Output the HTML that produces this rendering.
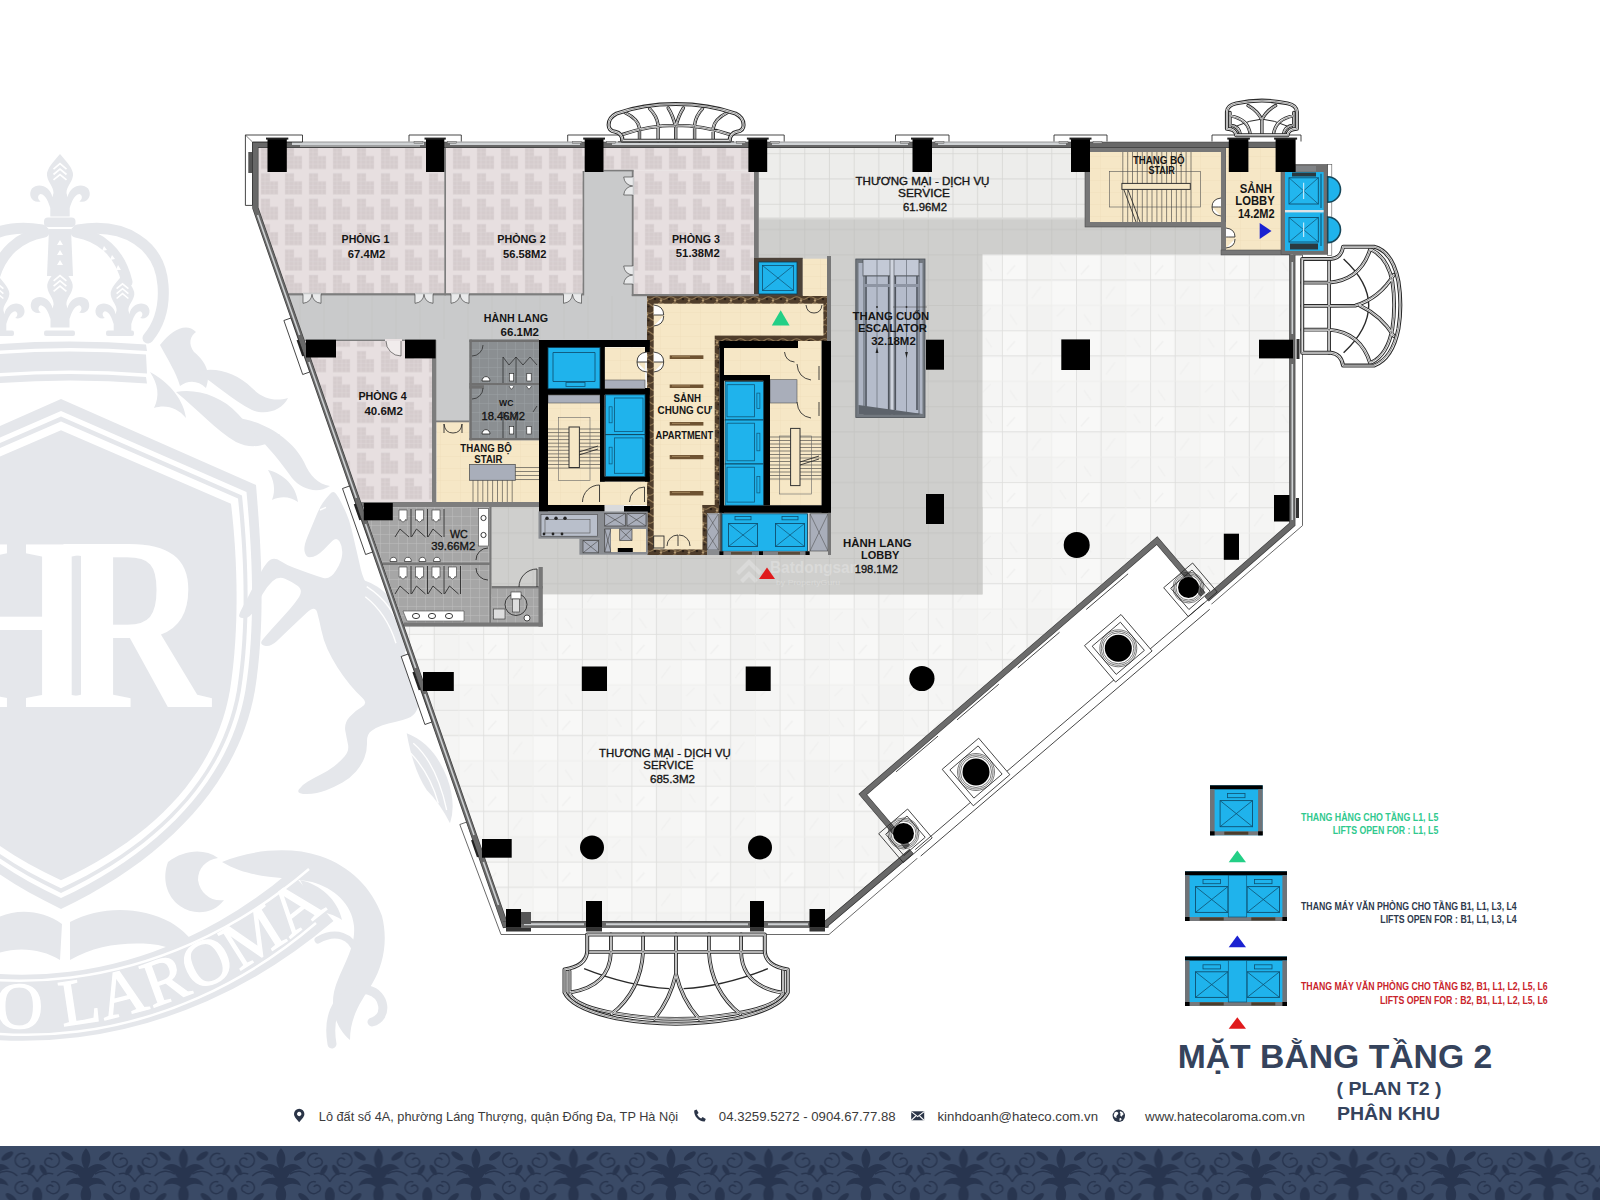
<!DOCTYPE html>
<html lang="vi"><head><meta charset="utf-8">
<title>Mặt bằng tầng 2 - Hateco Laroma</title>
<style>html,body{margin:0;padding:0;background:#fff;width:1600px;height:1200px;overflow:hidden}svg{display:block;position:absolute;left:0;top:0}</style>
</head><body>
<svg width="1600" height="1200" viewBox="0 0 1600 1200" font-family="'Liberation Sans', Arial, sans-serif">
<defs>
<pattern id="carpet" width="24" height="25.4" patternUnits="userSpaceOnUse" x="258" y="146"><rect width="24" height="25.4" fill="#e7dfe0"/><path d="M3 2h9v8h8v13h-17z" fill="#d5cccd"/><path d="M3 2h9v8h8v13h-17z M7 2v21 M3 6h9 M3 10h9 M3 14h17 M3 18h17 M12 10v13 M16 10v13" fill="none" stroke="#ddd6d8" stroke-width="0.5"/></pattern>
<pattern id="tile" width="74.1" height="75.9" patternUnits="userSpaceOnUse" x="1001.9" y="254.4"><rect width="74.1" height="75.9" fill="#f5f5f4"/><rect x="0" y="0" width="24.7" height="25.3" fill="#f8f8f7"/><rect x="49.4" y="25.3" width="24.7" height="25.3" fill="#f8f8f7"/><rect x="24.7" y="50.6" width="24.7" height="25.3" fill="#f2f2f1"/><rect x="24.7" y="0" width="24.7" height="25.3" fill="#f3f3f2"/><path d="M0 0.4H74.1 M0 25.7H74.1 M0.4 0V75.9 M25.1 0V75.9" stroke="#dddddc" stroke-width="0.9" fill="none"/><path d="M0 51H74.1 M49.8 0V75.9" stroke="#ececeb" stroke-width="0.8" fill="none"/><path d="M5 20l8-9 M30 44l9-12 M58 8l6 9 M8 60l7 10 M55 62l8-8" stroke="#f0f0ef" stroke-width="1.2" fill="none"/></pattern>
<pattern id="tile2" width="49.4" height="50.6" patternUnits="userSpaceOnUse" x="1001.9" y="254.4"><rect width="49.4" height="50.6" fill="#ededeb"/><path d="M0 0.4H49.4 M0 25.7H49.4 M0.4 0V50.6 M25.1 0V50.6" stroke="#d6d6d4" stroke-width="0.9" fill="none"/></pattern>
<pattern id="gtile" width="49.4" height="50.6" patternUnits="userSpaceOnUse" x="1001.9" y="254.4"><rect width="49.4" height="50.6" fill="#cfcfcd"/><path d="M0 0.4H49.4 M0 25.7H49.4 M0.4 0V50.6 M25.1 0V50.6" stroke="#c4c4c2" stroke-width="0.9" fill="none"/></pattern>
<pattern id="wct" width="9" height="9" patternUnits="userSpaceOnUse" x="362" y="507"><rect width="9" height="9" fill="#a6a6a6"/><path d="M0 0.3H9 M0.3 0V9" stroke="#bdbdbd" stroke-width="0.6"/></pattern>
<pattern id="wct2" width="9" height="9" patternUnits="userSpaceOnUse" x="470" y="340"><rect width="9" height="9" fill="#8b8f92"/><path d="M0 0.3H9 M0.3 0V9" stroke="#9da1a4" stroke-width="0.6"/></pattern>
<pattern id="beige" width="20" height="12" patternUnits="userSpaceOnUse"><rect width="20" height="12" fill="#f6e7c6"/><path d="M0 0.3H20 M0.3 0V12" stroke="#ecdcb9" stroke-width="0.5"/></pattern>
<pattern id="brown" width="14" height="14" patternUnits="userSpaceOnUse"><rect width="14" height="14" fill="#4f3d2b"/><path d="M0 3c3 1 4 3 7 2s4-3 7-2 M0 10c2-2 5-1 7 1s5 2 7 0" stroke="#8f7653" stroke-width="1.1" fill="none"/><circle cx="3" cy="6.5" r="1.2" fill="#b59a72"/><circle cx="10.5" cy="12" r="1" fill="#a98d64"/><circle cx="11" cy="5" r="1.3" fill="#2b2017"/><circle cx="4.5" cy="12.5" r="1.1" fill="#2b2017"/></pattern>
<pattern id="damask" width="97.5" height="70" patternUnits="userSpaceOnUse" x="37.3" y="1146"><rect width="97.5" height="70" fill="#3a4a66"/><g fill="#28354f" stroke="none"><path d="M48.7 2c5 6 6 12 2 20c8-6 14-5 19 1c-7 0-12 3-15 9c7-1 12 2 14 8c-6-3-12-3-17 1c3 5 3 10 0 16l-3 8l-3-8c-3-6-3-11 0-16c-5-4-11-4-17-1c2-6 7-9 14-8c-3-6-8-9-15-9c5-6 11-7 19-1c-4-8-3-14 2-20z"/><ellipse cx="30" cy="10" rx="7" ry="3" transform="rotate(35 30 10)"/><ellipse cx="67.5" cy="10" rx="7" ry="3" transform="rotate(-35 67.5 10)"/><ellipse cx="26" cy="52" rx="7" ry="3" transform="rotate(-40 26 52)"/><ellipse cx="71.5" cy="52" rx="7" ry="3" transform="rotate(40 71.5 52)"/><ellipse cx="38" cy="62" rx="6" ry="2.6" transform="rotate(-65 38 62)"/><ellipse cx="59.5" cy="62" rx="6" ry="2.6" transform="rotate(65 59.5 62)"/><ellipse cx="6" cy="24" rx="6" ry="2.6" transform="rotate(60 6 24)"/><ellipse cx="91.5" cy="24" rx="6" ry="2.6" transform="rotate(-60 91.5 24)"/><ellipse cx="0" cy="50" rx="5" ry="9"/><ellipse cx="97.5" cy="50" rx="5" ry="9"/></g><g fill="none" stroke="#28354f" stroke-width="1.6"><path d="M12 8a7 7 0 1 1 -1 12a4 4 0 1 1 4 -6"/><path d="M85.5 8a7 7 0 1 0 1 12a4 4 0 1 0 -4 -6"/><path d="M14 36a6 6 0 1 1 -2 10a3.5 3.5 0 1 1 4 -5"/><path d="M83.5 36a6 6 0 1 0 2 10a3.5 3.5 0 1 0 -4 -5"/><path d="M20 30c6 -6 14 -6 20 -2 M77.5 30c-6 -6 -14 -6 -20 -2"/><path d="M0 36c4 -8 10 -10 16 -8 M97.5 36c-4 -8 -10 -10 -16 -8"/></g></pattern>
</defs>
<rect width="1600" height="1200" fill="#fff"/>
<g id="watermark" fill="#e5e7eb" stroke="none">
<path d="M60.0 154.0 C65.4 160.5 74.0 169.1 73.0 175.6 C71.9 183.2 66.5 186.4 66.5 192.9 L67.6 197.2 C69.7 186.4 81.6 182.1 88.1 188.6 C92.4 195.0 88.1 203.7 79.4 201.5 C82.7 199.4 82.7 195.0 79.4 194.0 C74.0 195.0 71.9 201.5 69.7 208.0 L69.7 216.6 L50.3 216.6 L50.3 208.0 C48.1 201.5 46.0 195.0 40.6 194.0 C37.3 195.0 37.3 199.4 40.6 201.5 C31.9 203.7 27.6 195.0 31.9 188.6 C38.4 182.1 50.3 186.4 52.4 197.2 L53.5 192.9 C53.5 186.4 48.1 183.2 47.0 175.6 C46.0 169.1 54.6 160.5 60.0 154.0 Z"/>
<path d="M53.5 169.1 L60.0 163.7 L66.5 169.1" fill="none" stroke="#fff" stroke-width="1.7"/>
<path d="M53.5 174.5 L60.0 169.1 L66.5 174.5" fill="none" stroke="#fff" stroke-width="1.7"/>
<path d="M53.5 179.9 L60.0 174.5 L66.5 179.9" fill="none" stroke="#fff" stroke-width="1.7"/>
<rect x="44" y="217.5" width="31.5" height="9.5" rx="4"/>
<path d="M49 229 L71 229 L73 276 L47 276 Z"/>
<path d="M57 245 L60 240 L63 245 Z" fill="#fff"/>
<path d="M57 255 L60 250 L63 255 Z" fill="#fff"/>
<path d="M57 265 L60 260 L63 265 Z" fill="#fff"/>
<g fill="none" stroke="#e5e7eb" stroke-linecap="round">
<path d="M76 232 C100 236 120 252 127 282" stroke-width="11"/>
<path d="M78 230 C125 222 160 245 163 285 C165 310 158 326 148 338" stroke-width="11"/>
<path d="M44 232 C20 236 0 252 -7 282" stroke-width="11"/>
<path d="M42 230 C-5 222 -40 245 -43 285 C-45 310 -38 326 -28 338" stroke-width="11"/>
</g>
<path d="M104 246 l3 4 l-5 1z M112 255 l3 4 l-5 1z M118 265 l3 5 l-5 0z" fill="#fff"/>
<path d="M60.0 266.0 C65.3 272.4 73.8 280.8 72.7 287.2 C71.7 294.6 66.4 297.8 66.4 304.2 L67.4 308.4 C69.5 297.8 81.2 293.6 87.6 299.9 C91.8 306.3 87.6 314.8 79.1 312.6 C82.3 310.5 82.3 306.3 79.1 305.2 C73.8 306.3 71.7 312.6 69.5 319.0 L69.5 327.5 L50.5 327.5 L50.5 319.0 C48.3 312.6 46.2 306.3 40.9 305.2 C37.7 306.3 37.7 310.5 40.9 312.6 C32.4 314.8 28.2 306.3 32.4 299.9 C38.8 293.6 50.5 297.8 52.6 308.4 L53.6 304.2 C53.6 297.8 48.3 294.6 47.3 287.2 C46.2 280.8 54.7 272.4 60.0 266.0 Z"/>
<path d="M53.6 280.8 L60.0 275.5 L66.4 280.8" fill="none" stroke="#fff" stroke-width="1.7"/>
<path d="M53.6 286.1 L60.0 280.8 L66.4 286.1" fill="none" stroke="#fff" stroke-width="1.7"/>
<path d="M53.6 291.4 L60.0 286.1 L66.4 291.4" fill="none" stroke="#fff" stroke-width="1.7"/>
<path d="M122.5 275.0 C127.4 280.9 135.2 288.7 134.3 294.6 C133.3 301.5 128.4 304.4 128.4 310.3 L129.4 314.2 C131.3 304.4 142.1 300.5 148.0 306.4 C151.9 312.2 148.0 320.1 140.1 318.1 C143.1 316.2 143.1 312.2 140.1 311.3 C135.2 312.2 133.3 318.1 131.3 324.0 L131.3 331.8 L113.7 331.8 L113.7 324.0 C111.7 318.1 109.8 312.2 104.9 311.3 C101.9 312.2 101.9 316.2 104.9 318.1 C97.0 320.1 93.1 312.2 97.0 306.4 C102.9 300.5 113.7 304.4 115.6 314.2 L116.6 310.3 C116.6 304.4 111.7 301.5 110.7 294.6 C109.8 288.7 117.6 280.9 122.5 275.0 Z"/>
<path d="M116.6 288.7 L122.5 283.8 L128.4 288.7" fill="none" stroke="#fff" stroke-width="1.6"/>
<path d="M116.6 293.6 L122.5 288.7 L128.4 293.6" fill="none" stroke="#fff" stroke-width="1.6"/>
<path d="M116.6 298.5 L122.5 293.6 L128.4 298.5" fill="none" stroke="#fff" stroke-width="1.6"/>
<path d="M-2.5 275.0 C2.4 280.9 10.2 288.7 9.3 294.6 C8.3 301.5 3.4 304.4 3.4 310.3 L4.4 314.2 C6.3 304.4 17.1 300.5 23.0 306.4 C26.9 312.2 23.0 320.1 15.1 318.1 C18.1 316.2 18.1 312.2 15.1 311.3 C10.2 312.2 8.3 318.1 6.3 324.0 L6.3 331.8 L-11.3 331.8 L-11.3 324.0 C-13.3 318.1 -15.2 312.2 -20.1 311.3 C-23.1 312.2 -23.1 316.2 -20.1 318.1 C-28.0 320.1 -31.9 312.2 -28.0 306.4 C-22.1 300.5 -11.3 304.4 -9.4 314.2 L-8.4 310.3 C-8.4 304.4 -13.3 301.5 -14.3 294.6 C-15.2 288.7 -7.4 280.9 -2.5 275.0 Z"/>
<path d="M-8.4 288.7 L-2.5 283.8 L3.4 288.7" fill="none" stroke="#fff" stroke-width="1.6"/>
<path d="M-8.4 293.6 L-2.5 288.7 L3.4 293.6" fill="none" stroke="#fff" stroke-width="1.6"/>
<path d="M-8.4 298.5 L-2.5 293.6 L3.4 298.5" fill="none" stroke="#fff" stroke-width="1.6"/>
<rect x="44" y="330.5" width="31" height="5.5" rx="2"/>
<rect x="106" y="330.5" width="28" height="5.5" rx="2"/>
<rect x="-16" y="330.5" width="30" height="5.5" rx="2"/>
<path d="M-30 346.5 Q60 337.5 146 344.5 L147 351.0 Q60 344.0 -30 353.0 Z"/>
<path d="M-30 356.5 Q60 347.5 146 354.5 L147 373.5 Q60 366.5 -30 375.5 Z"/>
<path d="M-30 379 Q60 370 146 377 L147 383.5 Q60 376.5 -30 385.5 Z"/>
<path d="M61 399.0 L256.0 485.0 C261.0 545 266.0 620 255.0 690 C240.0 778.0 172.0 856.0 61 909.0 C-50.0 856.0 -118.0 778.0 -133.0 690 C-144.0 620 -139.0 545 -134.0 485.0 Z" fill="#e5e7eb"/>
<path d="M61 410.9 L246.5 492.1 C251.5 545 256.5 620 245.5 690 C231.0 775.1 166.3 848.4 61 898.1 C-44.3 848.4 -109.0 775.1 -123.5 690 C-134.5 620 -129.5 545 -124.5 492.1 Z" fill="#fff"/>
<path d="M61 416.5 L242.0 495.5 C247.0 545 252.0 620 241.0 690 C226.7 773.8 163.6 844.8 61 892.9 C-41.6 844.8 -104.7 773.8 -119.0 690 C-130.0 620 -125.0 545 -120.0 495.5 Z" fill="#e5e7eb"/>
<path d="M61 421.5 L238.0 498.5 C243.0 545 248.0 620 237.0 690 C222.9 772.6 161.2 841.6 61 888.3 C-39.2 841.6 -100.9 772.6 -115.0 690 C-126.0 620 -121.0 545 -116.0 498.5 Z" fill="#fff"/>
<path d="M61 430.2 L231.0 503.8 C236.0 545 241.0 620 230.0 690 C216.2 770.5 157.0 836.0 61 880.2 C-35.0 836.0 -94.2 770.5 -108.0 690 C-119.0 620 -114.0 545 -109.0 503.8 Z" fill="#e5e7eb"/>
<text y="707" style="font-family:'Liberation Serif',serif" font-weight="bold" font-size="248" fill="#fff"><tspan x="-58" textLength="149" lengthAdjust="spacingAndGlyphs">H</tspan><tspan x="60" textLength="150" lengthAdjust="spacingAndGlyphs">R</tspan></text>
<path d="M160 345 C172 330 186 322 196 332 C190 336 188 344 194 352 C204 360 212 372 206 388 C198 380 188 380 180 386 C176 372 168 360 160 345 Z"/>
<path d="M176 392 C196 388 222 396 238 414 C250 428 262 436 280 434 C270 446 252 450 236 442 C216 430 198 410 176 392 Z"/>
<path d="M196 372 C214 366 236 372 252 388 C262 398 274 402 288 398 C282 410 266 416 252 410 C232 400 216 384 196 372 Z"/>
<path d="M236 418 C262 420 292 438 304 462 C310 476 318 484 330 486 C318 494 302 490 292 478 C278 458 260 436 236 418 Z"/>
<path d="M150 372 C158 384 160 396 154 408 C166 404 178 408 186 418 C184 402 172 384 150 372 Z"/>
<path d="M268 470 C284 474 296 486 298 502 C290 496 280 496 272 500 C276 490 274 480 268 470 Z"/>
<path d="M336.0 493.7 Q333.3 490.0 329.7 494.2 Q326.0 498.3 323.0 502.5 Q320.0 506.7 315.8 516.7 Q311.7 526.7 307.5 536.7 Q303.3 546.7 304.7 552.0 Q306.0 557.3 309.7 557.3 Q313.3 557.3 316.7 555.3 Q320.0 553.3 324.2 549.2 Q328.3 545.0 332.5 540.8 Q336.7 536.7 339.7 541.7 Q342.7 546.7 342.2 554.2 Q341.7 561.7 335.8 570.8 Q330.0 580.0 323.3 578.0 Q316.7 576.0 308.3 573.0 Q300.0 570.0 293.3 567.5 Q286.7 565.0 280.8 561.2 Q275.0 557.3 270.8 559.5 Q266.7 561.7 261.7 570.8 Q256.7 580.0 252.5 588.3 Q248.3 596.7 244.2 604.2 Q240.0 611.7 239.2 615.0 Q238.3 618.3 244.2 618.3 Q250.0 618.3 254.2 610.0 Q258.3 601.7 262.5 594.2 Q266.7 586.7 272.5 581.3 Q278.3 576.0 285.0 578.8 Q291.7 581.7 297.5 585.8 Q303.3 590.0 299.2 596.7 Q295.0 603.3 287.5 611.7 Q280.0 620.0 272.5 628.3 Q265.0 636.7 262.2 640.3 Q259.3 644.0 264.7 645.7 Q270.0 647.3 276.7 641.2 Q283.3 635.0 290.8 627.8 Q298.3 620.7 306.7 612.8 Q315.0 605.0 317.2 612.5 Q319.3 620.0 321.3 630.0 Q323.3 640.0 327.5 649.2 Q331.7 658.3 337.5 667.5 Q343.3 676.7 350.0 684.7 Q356.7 692.7 362.5 698.0 Q368.3 703.3 361.7 707.0 Q355.0 710.7 349.5 717.0 Q344.0 723.3 345.3 730.8 Q346.7 738.3 348.0 744.5 Q349.3 750.7 344.7 756.2 Q340.0 761.7 334.2 766.2 Q328.3 770.7 320.8 774.5 Q313.3 778.3 307.5 781.7 Q301.7 785.0 298.8 789.5 Q296.0 794.0 306.7 794.0 Q317.3 794.0 326.2 790.3 Q335.0 786.7 342.5 782.5 Q350.0 778.3 355.8 771.7 Q361.7 765.0 364.5 757.5 Q367.3 750.0 367.0 742.0 Q366.7 734.0 371.7 730.7 Q376.7 727.3 382.5 725.3 Q388.3 723.3 395.0 722.0 Q401.7 720.7 407.8 718.3 Q414.0 716.0 417.0 709.7 Q420.0 703.3 419.7 695.8 Q419.3 688.3 416.3 680.0 Q413.3 671.7 410.0 664.2 Q406.7 656.7 401.7 645.8 Q396.7 635.0 391.7 625.8 Q386.7 616.7 380.8 606.7 Q375.0 596.7 369.2 588.3 Q363.3 580.0 360.8 569.2 Q358.3 558.3 355.8 547.5 Q353.3 536.7 351.3 528.3 Q349.3 520.0 346.3 513.3 Q343.3 506.7 341.0 502.0 Q338.7 497.3 336.0 493.7 Z"/>
<path d="M363.3 580.0 Q393.3 590.0 406.7 626.7 Q411.7 650.0 400.0 656.7 Q386.7 626.7 366.7 610.0 Z"/>
<path d="M366.7 586.7 Q393.3 603.3 402.7 636.7 M365.3 596.7 Q386.7 613.3 396.0 643.3 M320.0 510.0 L326.0 507.3" fill="none" stroke="#fff" stroke-width="1.4"/>
<path d="M406.7 733.3 Q433.3 743.3 446.7 776.7 Q456.7 803.3 450.0 823.3 Q440.0 803.3 426.7 790.0 Q413.3 770.0 406.7 733.3 Z"/>
<path d="M413.3 743.3 Q436.7 763.3 446.7 810.0 M410.7 753.3 Q430.0 773.3 438.3 803.3" fill="none" stroke="#fff" stroke-width="1.3"/>
<path d="M222 862 C250 850 290 846 320 856 C350 866 372 888 382 916 C388 940 384 964 372 984 C362 1000 350 1016 350 1040 C338 1030 330 1012 334 992 C340 968 356 950 354 926 C352 904 334 888 312 882 C284 876 252 880 222 862 Z"/>
<path d="M168 862 C184 850 204 848 218 858 C206 860 198 868 198 880 C200 894 212 902 224 900 C214 914 194 916 180 906 C166 896 162 878 168 862 Z"/>
<path d="M70 922 C100 906 140 906 170 922 C190 934 204 952 206 972 C192 956 172 946 150 944 C122 942 94 946 70 960 Z"/>
<path d="M-10 922 C10 908 40 908 62 924 L60 960 C40 948 14 946 -10 956 Z"/>
<path d="M300 880 C320 884 338 900 342 920 C330 912 316 910 304 914 C308 902 306 890 300 880 Z"/>
<path d="M332 1044 C326 1010 344 986 368 990 C386 994 388 1018 372 1022" fill="none" stroke="#e5e7eb" stroke-width="9" stroke-linecap="round"/>
<path d="M318 940 C336 930 352 936 356 952" fill="none" stroke="#e5e7eb" stroke-width="7" stroke-linecap="round"/>
<path id="rib" d="M-140 972 C-20 1030 160 1026 312 896" fill="none" stroke="#e5e7eb" stroke-width="66"/>
<path d="M-140 972 C-20 1030 160 1026 312 896" fill="none" stroke="#fff" stroke-width="2.5" transform="translate(-3,-27)"/>
<path d="M-140 972 C-20 1030 160 1026 312 896" fill="none" stroke="#fff" stroke-width="2.5" transform="translate(4,27)"/>
<path id="ribt" d="M-150 992 C-26 1052 172 1046 330 906" fill="none" stroke="none"/>
<text style="font-family:'Liberation Serif',serif" font-size="66" fill="#fff" stroke="#fff" stroke-width="1.2" letter-spacing="1.5"><textPath href="#ribt" startOffset="99.5%" text-anchor="end">HATECO LAROMA</textPath></text>
</g>
<g id="plan">
<polygon points="1289.0,255.0 1302.5,255.0 1302.5,525.6 829.0,934.5 501.0,934.5 459.8,824.5 466.8,822.0 504.0,924.0 826.0,924.0 1289.0,524.0" fill="#fff" stroke="#444" stroke-width="0.8" />
<polygon points="255.0,144.0 1293.0,144.0 1293.0,524.0 1205.7,597.6 1157.0,540.6 862.8,794.4 911.5,851.4 826.0,924.0 504.0,924.0 255.7,208.0" fill="url(#tile)" />
<polygon points="1157.0,540.6 1205.7,597.6 1213.5,606.8 919.3,860.6 911.5,851.4 862.8,794.4" fill="#fff" />
<rect x="758.8" y="146.0" width="462.2" height="73.0" fill="url(#tile2)" />
<rect x="758.8" y="219.0" width="462.2" height="35.4" fill="url(#gtile)" />
<rect x="758.8" y="219.0" width="223.7" height="375.4" fill="url(#gtile)" />
<rect x="491.6" y="507.0" width="490.9" height="87.4" fill="url(#gtile)" />
<rect x="758.8" y="217.5" width="326.2" height="2.0" fill="#d9d9d7" />
<polygon points="288.3,293.4 647.0,293.4 647.0,340.0 304.6,340.0" fill="#c9cacb" />
<rect x="583.4" y="170.6" width="50.1" height="125.4" fill="#c9cacb" />
<rect x="436.0" y="340.0" width="33.4" height="82.0" fill="#c9cacb" />
<line x1="300.0" y1="296.0" x2="300.0" y2="339.0" stroke="#c2c3c4" stroke-width="0.6" />
<line x1="324.0" y1="296.0" x2="324.0" y2="339.0" stroke="#c2c3c4" stroke-width="0.6" />
<line x1="348.0" y1="296.0" x2="348.0" y2="339.0" stroke="#c2c3c4" stroke-width="0.6" />
<line x1="372.0" y1="296.0" x2="372.0" y2="339.0" stroke="#c2c3c4" stroke-width="0.6" />
<line x1="396.0" y1="296.0" x2="396.0" y2="339.0" stroke="#c2c3c4" stroke-width="0.6" />
<line x1="420.0" y1="296.0" x2="420.0" y2="339.0" stroke="#c2c3c4" stroke-width="0.6" />
<line x1="444.0" y1="296.0" x2="444.0" y2="339.0" stroke="#c2c3c4" stroke-width="0.6" />
<line x1="468.0" y1="296.0" x2="468.0" y2="339.0" stroke="#c2c3c4" stroke-width="0.6" />
<line x1="492.0" y1="296.0" x2="492.0" y2="339.0" stroke="#c2c3c4" stroke-width="0.6" />
<line x1="516.0" y1="296.0" x2="516.0" y2="339.0" stroke="#c2c3c4" stroke-width="0.6" />
<line x1="540.0" y1="296.0" x2="540.0" y2="339.0" stroke="#c2c3c4" stroke-width="0.6" />
<line x1="564.0" y1="296.0" x2="564.0" y2="339.0" stroke="#c2c3c4" stroke-width="0.6" />
<line x1="588.0" y1="296.0" x2="588.0" y2="339.0" stroke="#c2c3c4" stroke-width="0.6" />
<line x1="612.0" y1="296.0" x2="612.0" y2="339.0" stroke="#c2c3c4" stroke-width="0.6" />
<line x1="636.0" y1="296.0" x2="636.0" y2="339.0" stroke="#c2c3c4" stroke-width="0.6" />
<polygon points="258.0,146.0 444.5,146.0 444.5,293.4 288.3,293.4 258.5,208.0" fill="url(#carpet)" />
<rect x="445.6" y="146.0" width="137.8" height="147.4" fill="url(#carpet)" />
<rect x="583.4" y="146.0" width="170.6" height="24.6" fill="url(#carpet)" />
<rect x="633.5" y="170.6" width="120.5" height="124.7" fill="url(#carpet)" />
<polygon points="304.6,340.0 432.0,340.0 432.0,502.0 361.1,502.0" fill="url(#carpet)" />
<polygon points="362.9,507.0 490.3,507.0 490.3,624.0 403.7,624.0" fill="url(#wct)" />
<rect x="492.0" y="587.0" width="48.0" height="37.0" fill="url(#wct)" />
<rect x="469.4" y="339.6" width="69.6" height="100.7" fill="url(#wct2)" />
<rect x="1085.0" y="144.4" width="141.0" height="82.6" fill="#777" stroke="#4a4a4a" stroke-width="0.6" />
<rect x="1090.0" y="152.0" width="131.0" height="70.0" fill="url(#beige)" />
<line x1="1122.8" y1="152.0" x2="1122.8" y2="222.0" stroke="#3a3a3a" stroke-width="0.6" />
<line x1="1127.7" y1="152.0" x2="1127.7" y2="222.0" stroke="#3a3a3a" stroke-width="0.6" />
<line x1="1132.5" y1="152.0" x2="1132.5" y2="222.0" stroke="#3a3a3a" stroke-width="0.6" />
<line x1="1137.4" y1="152.0" x2="1137.4" y2="222.0" stroke="#3a3a3a" stroke-width="0.6" />
<line x1="1142.3" y1="152.0" x2="1142.3" y2="222.0" stroke="#3a3a3a" stroke-width="0.6" />
<line x1="1147.1" y1="152.0" x2="1147.1" y2="222.0" stroke="#3a3a3a" stroke-width="0.6" />
<line x1="1152.0" y1="152.0" x2="1152.0" y2="222.0" stroke="#3a3a3a" stroke-width="0.6" />
<line x1="1156.9" y1="152.0" x2="1156.9" y2="222.0" stroke="#3a3a3a" stroke-width="0.6" />
<line x1="1161.8" y1="152.0" x2="1161.8" y2="222.0" stroke="#3a3a3a" stroke-width="0.6" />
<line x1="1166.6" y1="152.0" x2="1166.6" y2="222.0" stroke="#3a3a3a" stroke-width="0.6" />
<line x1="1171.5" y1="152.0" x2="1171.5" y2="222.0" stroke="#3a3a3a" stroke-width="0.6" />
<line x1="1176.4" y1="152.0" x2="1176.4" y2="222.0" stroke="#3a3a3a" stroke-width="0.6" />
<line x1="1181.2" y1="152.0" x2="1181.2" y2="222.0" stroke="#3a3a3a" stroke-width="0.6" />
<line x1="1186.1" y1="152.0" x2="1186.1" y2="222.0" stroke="#3a3a3a" stroke-width="0.6" />
<line x1="1191.0" y1="152.0" x2="1191.0" y2="222.0" stroke="#3a3a3a" stroke-width="0.6" />
<rect x="1109.7" y="171.6" width="90.9" height="35.4" fill="none" stroke="#555" stroke-width="0.6" />
<rect x="1121.9" y="183.4" width="68.4" height="6.0" fill="#f6e7c6" stroke="#333" stroke-width="1.0" />
<path d="M1124 190 L1136 222 M1128 190 L1140 222" fill="none" stroke="#262626" stroke-width="0.85" />
<rect x="1221.0" y="222.0" width="5.0" height="33.0" fill="#777" />
<rect x="1226.0" y="146.0" width="55.0" height="104.0" fill="url(#beige)" />
<rect x="1221.0" y="250.0" width="69.0" height="5.0" fill="#777" stroke="#4a4a4a" stroke-width="0.5" />
<path d="M1221 198 q-9 1 -9 9 q9 0 9 0 M1221 216 q-9 -1 -9 -9" fill="#fff" stroke="#262626" stroke-width="0.85" />
<path d="M1226 228 q9 1 9 9 q-9 0 -9 0 M1226 248 q9 -1 9 -9" fill="#fff" stroke="#262626" stroke-width="0.85" />
<rect x="1327.7" y="164.4" width="4.1" height="91.1" fill="#fff" stroke="#555" stroke-width="0.6" />
<rect x="1281.0" y="164.4" width="46.7" height="89.9" fill="#6f6f6f" stroke="#444" stroke-width="0.5" />
<rect x="1285.0" y="172.0" width="38.6" height="78.8" fill="#1fb3ec" />
<rect x="1285.0" y="210.0" width="38.6" height="2.4" fill="#dfe3e6" />
<rect x="1296.0" y="166.0" width="20.0" height="5.5" fill="#808386" />
<rect x="1289.0" y="177.8" width="29.3" height="26.2" fill="#22b6ee" stroke="#0e4f70" stroke-width="0.9" />
<line x1="1289.0" y1="177.8" x2="1318.3" y2="204.0" stroke="#0e4f70" stroke-width="0.7" />
<line x1="1289.0" y1="204.0" x2="1318.3" y2="177.8" stroke="#0e4f70" stroke-width="0.7" />
<line x1="1303.6" y1="182.8" x2="1303.6" y2="199.0" stroke="#bfe9fa" stroke-width="1.2" />
<line x1="1321.0" y1="173.8" x2="1321.0" y2="208.0" stroke="#0e6f98" stroke-width="1.5" />
<rect x="1289.0" y="217.5" width="29.3" height="24.5" fill="#22b6ee" stroke="#0e4f70" stroke-width="0.9" />
<line x1="1289.0" y1="217.5" x2="1318.3" y2="242.0" stroke="#0e4f70" stroke-width="0.7" />
<line x1="1289.0" y1="242.0" x2="1318.3" y2="217.5" stroke="#0e4f70" stroke-width="0.7" />
<line x1="1303.6" y1="222.5" x2="1303.6" y2="237.0" stroke="#bfe9fa" stroke-width="1.2" />
<line x1="1321.0" y1="213.5" x2="1321.0" y2="246.0" stroke="#0e6f98" stroke-width="1.5" />
<path d="M1327.7 176.7 A12.8 12.8 0 0 1 1327.7 202.3 Z" fill="#1fb3ec" stroke="#16475a" stroke-width="1.6" />
<path d="M1327.7 217.0 A12.8 12.8 0 0 1 1327.7 242.60000000000002 Z" fill="#1fb3ec" stroke="#16475a" stroke-width="1.6" />
<rect x="1290.0" y="243.5" width="28.0" height="6.0" fill="#2b3a40" />
<rect x="1292.0" y="172.5" width="24.0" height="4.0" fill="#2b3a40" />
<polygon points="1259.7,223.0 1271.5,231.0 1259.7,239.0" fill="#1b22d1" />
<rect x="647.0" y="295.3" width="182.0" height="45.7" fill="url(#brown)" />
<rect x="647.0" y="341.0" width="72.4" height="214.0" fill="url(#brown)" />
<rect x="653.7" y="303.7" width="169.7" height="31.9" fill="url(#beige)" />
<rect x="653.7" y="335.0" width="61.0" height="170.0" fill="url(#beige)" />
<rect x="653.7" y="505.0" width="48.8" height="44.4" fill="url(#beige)" />
<rect x="702.5" y="505.0" width="16.9" height="8.0" fill="url(#brown)" />
<rect x="707.0" y="513.0" width="12.4" height="42.0" fill="#fff" />
<rect x="669.7" y="355.3" width="33.7" height="3.7" fill="#6f5332" />
<rect x="672.0" y="356.1" width="18.0" height="1.2" fill="#9a7d55" />
<rect x="669.7" y="384.5" width="33.7" height="3.5" fill="#6f5332" />
<rect x="672.0" y="385.3" width="18.0" height="1.2" fill="#9a7d55" />
<rect x="669.7" y="422.0" width="33.7" height="3.6" fill="#6f5332" />
<rect x="672.0" y="422.8" width="18.0" height="1.2" fill="#9a7d55" />
<rect x="669.7" y="455.0" width="33.7" height="4.2" fill="#6f5332" />
<rect x="672.0" y="455.8" width="18.0" height="1.2" fill="#9a7d55" />
<rect x="669.7" y="491.0" width="33.7" height="4.5" fill="#6f5332" />
<rect x="672.0" y="491.8" width="18.0" height="1.2" fill="#9a7d55" />
<polygon points="771.8,325.5 789.6,325.5 780.7,310.2" fill="#23cf86" />
<rect x="754.0" y="257.8" width="48.8" height="38.2" fill="#4b4138" />
<rect x="758.7" y="262.0" width="38.3" height="32.0" fill="#1fb3ec" stroke="#0a3a52" stroke-width="0.8" />
<rect x="762.5" y="265.5" width="31.0" height="25.0" fill="none" stroke="#0e4f70" stroke-width="0.8" />
<line x1="762.5" y1="265.5" x2="793.5" y2="290.5" stroke="#0e4f70" stroke-width="0.7" />
<line x1="762.5" y1="290.5" x2="793.5" y2="265.5" stroke="#0e4f70" stroke-width="0.7" />
<rect x="802.8" y="258.7" width="24.2" height="37.3" fill="url(#beige)" />
<rect x="827.0" y="256.0" width="4.0" height="85.0" fill="#777" />
<rect x="754.0" y="146.0" width="4.8" height="112.0" fill="#777" />
<rect x="548.0" y="347.0" width="56.7" height="47.5" fill="#000" />
<rect x="548.0" y="394.5" width="52.0" height="110.5" fill="url(#beige)" />
<rect x="600.0" y="481.6" width="47.0" height="23.4" fill="url(#beige)" />
<rect x="604.7" y="347.5" width="40.3" height="32.5" fill="url(#beige)" />
<rect x="604.7" y="380.0" width="40.3" height="8.3" fill="#a9aeba" stroke="#555" stroke-width="0.6" />
<rect x="548.0" y="395.0" width="52.0" height="8.0" fill="#a9aeba" stroke="#555" stroke-width="0.6" />
<rect x="539.0" y="340.0" width="9.0" height="171.5" fill="#000" />
<rect x="539.0" y="340.0" width="110.7" height="7.0" fill="#000" />
<rect x="548.0" y="388.8" width="101.7" height="6.0" fill="#000" />
<rect x="600.0" y="345.0" width="4.7" height="136.6" fill="#000" />
<rect x="645.0" y="388.0" width="4.7" height="93.6" fill="#000" />
<rect x="600.0" y="476.5" width="49.7" height="5.1" fill="#000" />
<rect x="539.0" y="505.0" width="65.7" height="6.5" fill="#000" />
<rect x="624.0" y="506.0" width="26.0" height="6.5" fill="#000" />
<rect x="604.7" y="505.0" width="19.3" height="7.0" fill="#d9dadc" />
<rect x="645.0" y="340.0" width="4.7" height="12.0" fill="#000" />
<rect x="548.0" y="347.5" width="52.0" height="41.3" fill="#1fb3ec" stroke="#0a3a52" stroke-width="0.8" />
<path d="M553 352.5 h42 v29 h-42z" fill="none" stroke="#0e5578" stroke-width="0.9" />
<rect x="566.0" y="382.5" width="19.0" height="4.0" fill="none" stroke="#0e5578" stroke-width="0.8" />
<rect x="605.6" y="394.8" width="39.4" height="39.9" fill="#1fb3ec" stroke="#0a3a52" stroke-width="0.8" />
<rect x="614.6" y="398.0" width="28.4" height="33.5" fill="none" stroke="#0e5578" stroke-width="0.8" />
<rect x="609.1" y="406.8" width="3.0" height="16.0" fill="none" stroke="#0e5578" stroke-width="0.7" />
<rect x="605.6" y="434.7" width="39.4" height="41.8" fill="#1fb3ec" stroke="#0a3a52" stroke-width="0.8" />
<rect x="614.6" y="437.9" width="28.4" height="35.4" fill="none" stroke="#0e5578" stroke-width="0.8" />
<rect x="609.1" y="447.2" width="3.0" height="16.7" fill="none" stroke="#0e5578" stroke-width="0.7" />
<line x1="548.0" y1="429.0" x2="600.0" y2="429.0" stroke="#3a3a3a" stroke-width="0.6" />
<line x1="548.0" y1="432.6" x2="600.0" y2="432.6" stroke="#3a3a3a" stroke-width="0.6" />
<line x1="548.0" y1="436.1" x2="600.0" y2="436.1" stroke="#3a3a3a" stroke-width="0.6" />
<line x1="548.0" y1="439.6" x2="600.0" y2="439.6" stroke="#3a3a3a" stroke-width="0.6" />
<line x1="548.0" y1="443.2" x2="600.0" y2="443.2" stroke="#3a3a3a" stroke-width="0.6" />
<line x1="548.0" y1="446.8" x2="600.0" y2="446.8" stroke="#3a3a3a" stroke-width="0.6" />
<line x1="548.0" y1="450.3" x2="600.0" y2="450.3" stroke="#3a3a3a" stroke-width="0.6" />
<line x1="548.0" y1="453.9" x2="600.0" y2="453.9" stroke="#3a3a3a" stroke-width="0.6" />
<line x1="548.0" y1="457.4" x2="600.0" y2="457.4" stroke="#3a3a3a" stroke-width="0.6" />
<line x1="548.0" y1="460.9" x2="600.0" y2="460.9" stroke="#3a3a3a" stroke-width="0.6" />
<line x1="548.0" y1="464.5" x2="600.0" y2="464.5" stroke="#3a3a3a" stroke-width="0.6" />
<line x1="548.0" y1="468.1" x2="600.0" y2="468.1" stroke="#3a3a3a" stroke-width="0.6" />
<rect x="558.5" y="417.5" width="31.5" height="63.0" fill="none" stroke="#666" stroke-width="0.6" />
<rect x="569.0" y="427.0" width="10.4" height="40.5" fill="#f6e7c6" stroke="#333" stroke-width="1.0" />
<path d="M579 452 L598 446 M579 455 L598 449" fill="none" stroke="#262626" stroke-width="0.85" />
<path d="M582.5 502 a17 17 0 0 1 17 -17 v17" fill="#f6e7c6" stroke="#262626" stroke-width="0.85" />
<path d="M629.5 502 a15 15 0 0 1 15 -15 v15" fill="#f6e7c6" stroke="#262626" stroke-width="0.85" />
<path d="M647 352 q-10 1 -10 10 h10 M647 372 q-10 -1 -10 -10" fill="#fff" stroke="#262626" stroke-width="0.85" />
<path d="M653.7 352 q10 1 10 10 h-10 M653.7 372 q10 -1 10 -10" fill="#fff" stroke="#262626" stroke-width="0.85" />
<path d="M653.7 305 q10 1 10 10 h-10 M653.7 326 q10 -1 10 -10" fill="#fff" stroke="#262626" stroke-width="0.85" />
<rect x="724.0" y="348.0" width="97.6" height="157.3" fill="url(#beige)" />
<rect x="797.0" y="341.0" width="24.6" height="9.0" fill="url(#beige)" />
<rect x="770.0" y="379.7" width="27.0" height="23.3" fill="#a9aeba" stroke="#555" stroke-width="0.6" />
<rect x="719.4" y="341.0" width="4.6" height="171.8" fill="#000" />
<rect x="719.4" y="341.0" width="78.6" height="7.0" fill="#000" />
<rect x="724.0" y="375.0" width="46.0" height="5.8" fill="#000" />
<rect x="763.4" y="375.0" width="6.6" height="130.3" fill="#000" />
<rect x="719.4" y="505.3" width="111.6" height="7.5" fill="#000" />
<rect x="821.6" y="341.0" width="9.4" height="171.8" fill="#000" />
<rect x="725.0" y="381.5" width="38.4" height="38.5" fill="#1fb3ec" stroke="#0a3a52" stroke-width="0.8" />
<rect x="727.0" y="384.7" width="27.4" height="32.1" fill="none" stroke="#0e5578" stroke-width="0.8" />
<rect x="756.9" y="393.1" width="3.0" height="15.4" fill="none" stroke="#0e5578" stroke-width="0.7" />
<rect x="725.0" y="420.0" width="38.4" height="44.0" fill="#1fb3ec" stroke="#0a3a52" stroke-width="0.8" />
<rect x="727.0" y="423.2" width="27.4" height="37.6" fill="none" stroke="#0e5578" stroke-width="0.8" />
<rect x="756.9" y="433.2" width="3.0" height="17.6" fill="none" stroke="#0e5578" stroke-width="0.7" />
<rect x="725.0" y="464.0" width="38.4" height="41.3" fill="#1fb3ec" stroke="#0a3a52" stroke-width="0.8" />
<rect x="727.0" y="467.2" width="27.4" height="34.9" fill="none" stroke="#0e5578" stroke-width="0.8" />
<rect x="756.9" y="476.4" width="3.0" height="16.5" fill="none" stroke="#0e5578" stroke-width="0.7" />
<line x1="770.0" y1="437.0" x2="821.6" y2="437.0" stroke="#3a3a3a" stroke-width="0.6" />
<line x1="770.0" y1="440.5" x2="821.6" y2="440.5" stroke="#3a3a3a" stroke-width="0.6" />
<line x1="770.0" y1="444.0" x2="821.6" y2="444.0" stroke="#3a3a3a" stroke-width="0.6" />
<line x1="770.0" y1="447.5" x2="821.6" y2="447.5" stroke="#3a3a3a" stroke-width="0.6" />
<line x1="770.0" y1="451.0" x2="821.6" y2="451.0" stroke="#3a3a3a" stroke-width="0.6" />
<line x1="770.0" y1="454.5" x2="821.6" y2="454.5" stroke="#3a3a3a" stroke-width="0.6" />
<line x1="770.0" y1="458.0" x2="821.6" y2="458.0" stroke="#3a3a3a" stroke-width="0.6" />
<line x1="770.0" y1="461.5" x2="821.6" y2="461.5" stroke="#3a3a3a" stroke-width="0.6" />
<line x1="770.0" y1="465.0" x2="821.6" y2="465.0" stroke="#3a3a3a" stroke-width="0.6" />
<line x1="770.0" y1="468.5" x2="821.6" y2="468.5" stroke="#3a3a3a" stroke-width="0.6" />
<line x1="770.0" y1="472.0" x2="821.6" y2="472.0" stroke="#3a3a3a" stroke-width="0.6" />
<line x1="770.0" y1="475.5" x2="821.6" y2="475.5" stroke="#3a3a3a" stroke-width="0.6" />
<line x1="770.0" y1="479.0" x2="821.6" y2="479.0" stroke="#3a3a3a" stroke-width="0.6" />
<rect x="779.5" y="436.0" width="32.0" height="58.0" fill="none" stroke="#666" stroke-width="0.6" />
<rect x="790.6" y="428.4" width="9.4" height="57.2" fill="#f6e7c6" stroke="#333" stroke-width="1.0" />
<path d="M800 462 L819 456 M800 465 L819 459" fill="none" stroke="#262626" stroke-width="0.85" />
<path d="M784.5 352 q1 9 10 10 M797 364 q1 14 14 16 M797 402 q1 14 14 16 M819 366 v14 M819 402 v14" fill="none" stroke="#262626" stroke-width="0.85" />
<path d="M806 305 q1 8 8 8 M822 305 q-1 8 -8 8" fill="none" stroke="#262626" stroke-width="0.85" />
<rect x="707.0" y="513.8" width="11.4" height="36.2" fill="#a9aeba" stroke="#444" stroke-width="0.6" />
<line x1="707.0" y1="513.8" x2="718.4" y2="532.0" stroke="#444" stroke-width="0.5" />
<line x1="707.0" y1="532.0" x2="718.4" y2="513.8" stroke="#444" stroke-width="0.5" />
<line x1="707.0" y1="532.0" x2="718.4" y2="550.0" stroke="#444" stroke-width="0.5" />
<line x1="707.0" y1="550.0" x2="718.4" y2="532.0" stroke="#444" stroke-width="0.5" />
<rect x="810.0" y="513.8" width="18.0" height="37.2" fill="#a9aeba" stroke="#444" stroke-width="0.6" />
<line x1="810.0" y1="513.8" x2="828.0" y2="551.0" stroke="#444" stroke-width="0.5" />
<line x1="810.0" y1="551.0" x2="828.0" y2="513.8" stroke="#444" stroke-width="0.5" />
<rect x="719.4" y="512.8" width="2.6" height="42.2" fill="#555" />
<rect x="707.0" y="550.0" width="12.4" height="5.0" fill="#8a8c8f" />
<rect x="828.0" y="512.8" width="3.0" height="42.2" fill="#777" />
<rect x="722.0" y="513.8" width="85.5" height="37.5" fill="#1fb3ec" stroke="#0a3a52" stroke-width="0.8" />
<rect x="728.5" y="523.5" width="29.0" height="23.0" fill="none" stroke="#0e4f70" stroke-width="0.9" />
<line x1="728.5" y1="523.5" x2="757.5" y2="546.5" stroke="#0e4f70" stroke-width="0.7" />
<line x1="728.5" y1="546.5" x2="757.5" y2="523.5" stroke="#0e4f70" stroke-width="0.7" />
<rect x="735.0" y="516.5" width="16.0" height="3.3" fill="none" stroke="#0e4f70" stroke-width="0.8" />
<rect x="775.5" y="523.5" width="29.0" height="23.0" fill="none" stroke="#0e4f70" stroke-width="0.9" />
<line x1="775.5" y1="523.5" x2="804.5" y2="546.5" stroke="#0e4f70" stroke-width="0.7" />
<line x1="775.5" y1="546.5" x2="804.5" y2="523.5" stroke="#0e4f70" stroke-width="0.7" />
<rect x="782.0" y="516.5" width="16.0" height="3.3" fill="none" stroke="#0e4f70" stroke-width="0.8" />
<rect x="719.4" y="551.3" width="90.6" height="3.7" fill="#808285" />
<rect x="719.4" y="551.3" width="4.0" height="3.7" fill="#000" />
<rect x="759.0" y="551.3" width="4.0" height="3.7" fill="#000" />
<rect x="805.5" y="551.3" width="4.0" height="3.7" fill="#000" />
<rect x="731.0" y="552.0" width="21.0" height="2.6" fill="#5a4a38" />
<rect x="778.0" y="552.0" width="22.0" height="2.6" fill="#5a4a38" />
<path d="M667 546 a11 11 0 0 1 11 -11 v11 M690 546 a-11 11 0 0 0 -11 -11" fill="none" stroke="#262626" stroke-width="0.85" />
<rect x="653.7" y="536.0" width="10.3" height="12.0" fill="none" stroke="#262626" stroke-width="0.85" />
<g fill="#fff" opacity="0.24"><path d="M736 572 l13 -13 l13 13 l-3 3 l-10 -10 l-10 10 z M740 580 l9 -9 l9 9 l-3 3 l-6 -6 l-6 6 z"/><text x="770" y="572.5" font-size="17" font-weight="bold" textLength="89" lengthAdjust="spacingAndGlyphs">Batdongsan</text><text x="776" y="584.5" font-size="7.5" textLength="64" lengthAdjust="spacingAndGlyphs">by PropertyGuru</text></g>
<polygon points="759.0,579.0 775.0,579.0 767.0,567.5" fill="#e01a1c" />
<rect x="538.5" y="511.5" width="61.5" height="27.2" fill="#8a8d92" />
<rect x="541.0" y="514.5" width="56.5" height="21.7" fill="#b9bfcb" stroke="#444" stroke-width="0.6" />
<rect x="545.0" y="519.5" width="45.0" height="13.5" fill="none" stroke="#555" stroke-width="0.6" />
<circle cx="547.0" cy="518.2" r="1.7" fill="#222"/>
<circle cx="556.0" cy="518.2" r="1.7" fill="#222"/>
<circle cx="565.0" cy="518.2" r="1.7" fill="#222"/>
<circle cx="544.0" cy="534.0" r="1.4" fill="#222"/>
<circle cx="553.0" cy="534.0" r="1.4" fill="#222"/>
<circle cx="562.0" cy="534.0" r="1.4" fill="#222"/>
<rect x="579.4" y="538.7" width="20.6" height="16.0" fill="#8a8d92" />
<rect x="583.0" y="540.5" width="15.5" height="12.3" fill="#a9aeba" stroke="#444" stroke-width="0.7" />
<line x1="583.0" y1="540.5" x2="598.5" y2="552.8" stroke="#444" stroke-width="0.6" />
<line x1="583.0" y1="552.8" x2="598.5" y2="540.5" stroke="#444" stroke-width="0.6" />
<rect x="600.0" y="511.5" width="47.8" height="43.2" fill="#8a8d92" />
<rect x="604.7" y="513.5" width="20.6" height="12.5" fill="#a9aeba" stroke="#444" stroke-width="0.7" />
<line x1="604.7" y1="513.5" x2="625.3" y2="526.0" stroke="#444" stroke-width="0.6" />
<line x1="604.7" y1="526.0" x2="625.3" y2="513.5" stroke="#444" stroke-width="0.6" />
<rect x="627.0" y="513.5" width="19.0" height="12.5" fill="#a9aeba" stroke="#444" stroke-width="0.7" />
<line x1="627.0" y1="513.5" x2="646.0" y2="526.0" stroke="#444" stroke-width="0.6" />
<line x1="627.0" y1="526.0" x2="646.0" y2="513.5" stroke="#444" stroke-width="0.6" />
<rect x="604.7" y="529.0" width="6.3" height="23.0" fill="#a9aeba" stroke="#444" stroke-width="0.7" />
<line x1="604.7" y1="529.0" x2="611.0" y2="552.0" stroke="#444" stroke-width="0.6" />
<line x1="604.7" y1="552.0" x2="611.0" y2="529.0" stroke="#444" stroke-width="0.6" />
<rect x="611.0" y="529.0" width="35.0" height="23.0" fill="url(#beige)" />
<rect x="619.7" y="529.0" width="12.3" height="11.6" fill="#a9aeba" stroke="#444" stroke-width="0.7" />
<line x1="619.7" y1="529.0" x2="632.0" y2="540.6" stroke="#444" stroke-width="0.6" />
<line x1="619.7" y1="540.6" x2="632.0" y2="529.0" stroke="#444" stroke-width="0.6" />
<rect x="617.8" y="548.0" width="15.0" height="4.0" fill="#000" />
<polygon points="436.5,422.0 469.4,422.0 469.4,440.3 539.0,440.3 539.0,502.0 436.5,502.0" fill="url(#beige)" />
<rect x="469.4" y="464.4" width="45.9" height="15.9" fill="#a9aeba" stroke="#555" stroke-width="0.8" />
<line x1="473.0" y1="480.3" x2="473.0" y2="502.0" stroke="#3a3a3a" stroke-width="0.6" />
<line x1="477.9" y1="480.3" x2="477.9" y2="502.0" stroke="#3a3a3a" stroke-width="0.6" />
<line x1="482.8" y1="480.3" x2="482.8" y2="502.0" stroke="#3a3a3a" stroke-width="0.6" />
<line x1="487.7" y1="480.3" x2="487.7" y2="502.0" stroke="#3a3a3a" stroke-width="0.6" />
<line x1="492.6" y1="480.3" x2="492.6" y2="502.0" stroke="#3a3a3a" stroke-width="0.6" />
<line x1="497.5" y1="480.3" x2="497.5" y2="502.0" stroke="#3a3a3a" stroke-width="0.6" />
<line x1="502.4" y1="480.3" x2="502.4" y2="502.0" stroke="#3a3a3a" stroke-width="0.6" />
<line x1="507.3" y1="480.3" x2="507.3" y2="502.0" stroke="#3a3a3a" stroke-width="0.6" />
<line x1="512.2" y1="480.3" x2="512.2" y2="502.0" stroke="#3a3a3a" stroke-width="0.6" />
<line x1="515.3" y1="467.5" x2="539.0" y2="467.5" stroke="#3a3a3a" stroke-width="0.6" />
<line x1="515.3" y1="471.5" x2="539.0" y2="471.5" stroke="#3a3a3a" stroke-width="0.6" />
<line x1="515.3" y1="475.5" x2="539.0" y2="475.5" stroke="#3a3a3a" stroke-width="0.6" />
<line x1="515.3" y1="479.5" x2="539.0" y2="479.5" stroke="#3a3a3a" stroke-width="0.6" />
<path d="M444 424 q1 9 9 9 M462 424 q-1 9 -9 9 M444 424 v9 M462 424 v9" fill="none" stroke="#262626" stroke-width="0.85" />
<rect x="382.4" y="562.5" width="107.9" height="2.5" fill="#777" />
<rect x="489.4" y="507.0" width="2.2" height="119.0" fill="#777" />
<rect x="403.7" y="622.5" width="139.1" height="4.1" fill="#777" />
<rect x="538.5" y="567.0" width="4.3" height="59.6" fill="#777" />
<rect x="491.6" y="586.0" width="51.2" height="2.5" fill="#777" />
<rect x="399.0" y="510.0" width="8.0" height="10.0" fill="#fff" stroke="#333" stroke-width="0.6" />
<path d="M400.0 519 q3 6 6 0" fill="#fff" stroke="#333" stroke-width="0.6" />
<line x1="411.0" y1="509.0" x2="411.0" y2="537.0" stroke="#262626" stroke-width="0.85" />
<path d="M395.0 537 l5 -8 l9 8" fill="none" stroke="#262626" stroke-width="0.85" />
<rect x="415.5" y="510.0" width="8.0" height="10.0" fill="#fff" stroke="#333" stroke-width="0.6" />
<path d="M416.5 519 q3 6 6 0" fill="#fff" stroke="#333" stroke-width="0.6" />
<line x1="427.5" y1="509.0" x2="427.5" y2="537.0" stroke="#262626" stroke-width="0.85" />
<path d="M411.5 537 l5 -8 l9 8" fill="none" stroke="#262626" stroke-width="0.85" />
<rect x="432.0" y="510.0" width="8.0" height="10.0" fill="#fff" stroke="#333" stroke-width="0.6" />
<path d="M433.0 519 q3 6 6 0" fill="#fff" stroke="#333" stroke-width="0.6" />
<line x1="444.0" y1="509.0" x2="444.0" y2="537.0" stroke="#262626" stroke-width="0.85" />
<path d="M428.0 537 l5 -8 l9 8" fill="none" stroke="#262626" stroke-width="0.85" />
<rect x="399.0" y="567.0" width="8.0" height="10.0" fill="#fff" stroke="#333" stroke-width="0.6" />
<path d="M400.0 576 q3 6 6 0" fill="#fff" stroke="#333" stroke-width="0.6" />
<line x1="411.0" y1="566.0" x2="411.0" y2="594.0" stroke="#262626" stroke-width="0.85" />
<path d="M395.0 594 l5 -8 l9 8" fill="none" stroke="#262626" stroke-width="0.85" />
<rect x="415.5" y="567.0" width="8.0" height="10.0" fill="#fff" stroke="#333" stroke-width="0.6" />
<path d="M416.5 576 q3 6 6 0" fill="#fff" stroke="#333" stroke-width="0.6" />
<line x1="427.5" y1="566.0" x2="427.5" y2="594.0" stroke="#262626" stroke-width="0.85" />
<path d="M411.5 594 l5 -8 l9 8" fill="none" stroke="#262626" stroke-width="0.85" />
<rect x="432.0" y="567.0" width="8.0" height="10.0" fill="#fff" stroke="#333" stroke-width="0.6" />
<path d="M433.0 576 q3 6 6 0" fill="#fff" stroke="#333" stroke-width="0.6" />
<line x1="444.0" y1="566.0" x2="444.0" y2="594.0" stroke="#262626" stroke-width="0.85" />
<path d="M428.0 594 l5 -8 l9 8" fill="none" stroke="#262626" stroke-width="0.85" />
<rect x="448.5" y="567.0" width="8.0" height="10.0" fill="#fff" stroke="#333" stroke-width="0.6" />
<path d="M449.5 576 q3 6 6 0" fill="#fff" stroke="#333" stroke-width="0.6" />
<line x1="460.5" y1="566.0" x2="460.5" y2="594.0" stroke="#262626" stroke-width="0.85" />
<path d="M444.5 594 l5 -8 l9 8" fill="none" stroke="#262626" stroke-width="0.85" />
<path d="M390.0 561.5 a3.4 4.2 0 0 1 6.8 0 z" fill="#fff" stroke="#222" stroke-width="0.7" />
<path d="M404.5 561.5 a3.4 4.2 0 0 1 6.8 0 z" fill="#fff" stroke="#222" stroke-width="0.7" />
<path d="M419.0 561.5 a3.4 4.2 0 0 1 6.8 0 z" fill="#fff" stroke="#222" stroke-width="0.7" />
<path d="M433.5 561.5 a3.4 4.2 0 0 1 6.8 0 z" fill="#fff" stroke="#222" stroke-width="0.7" />
<rect x="478.5" y="508.5" width="10.0" height="37.5" fill="#fff" stroke="#444" stroke-width="0.6" />
<circle cx="483.5" cy="518.0" r="2.6" fill="#fff" stroke="#222" stroke-width="0.9"/>
<circle cx="483.5" cy="535.0" r="2.6" fill="#fff" stroke="#222" stroke-width="0.9"/>
<polygon points="403.0,611.0 464.0,611.0 464.0,621.0 407.0,621.0" fill="#fff" stroke="#444" stroke-width="0.6" />
<ellipse cx="416" cy="616" rx="3.6" ry="2.6" fill="#fff" stroke="#222" stroke-width="0.9"/>
<ellipse cx="432" cy="616" rx="3.6" ry="2.6" fill="#fff" stroke="#222" stroke-width="0.9"/>
<ellipse cx="449" cy="616" rx="3.6" ry="2.6" fill="#fff" stroke="#222" stroke-width="0.9"/>
<path d="M476 560 a12 12 0 0 1 12 -12 M476 568 a12 12 0 0 0 12 12" fill="none" stroke="#262626" stroke-width="0.85" />
<circle cx="516.0" cy="604.5" r="11.0" fill="none" stroke="#262626" stroke-width="0.85"/>
<rect x="511.0" y="592.0" width="10.0" height="7.0" fill="#fff" stroke="#333" stroke-width="0.6" />
<rect x="512.5" y="599.0" width="7.0" height="13.0" fill="#ddd" stroke="#333" stroke-width="0.6" />
<rect x="493.5" y="609.0" width="11.5" height="10.0" fill="#ddd" stroke="#333" stroke-width="0.6" />
<circle cx="527.0" cy="618.0" r="3.0" fill="#fff" stroke="#222" stroke-width="0.8"/>
<path d="M519 587 a18 18 0 0 1 18 -18 v18" fill="none" stroke="#262626" stroke-width="0.85" />
<rect x="469.4" y="339.6" width="69.6" height="2.4" fill="#707070" />
<rect x="469.4" y="339.6" width="2.4" height="100.7" fill="#707070" />
<rect x="469.4" y="438.0" width="69.6" height="2.3" fill="#707070" />
<rect x="469.4" y="383.0" width="69.6" height="2.2" fill="#707070" />
<rect x="469.4" y="385.2" width="14.6" height="3.4" fill="#707070" />
<path d="M482 381 a4 4.4 0 0 1 8 0 z" fill="#fff" stroke="#222" stroke-width="0.8" />
<rect x="509.3" y="373.5" width="4.4" height="7.5" fill="#fff" stroke="#222" stroke-width="0.6" />
<rect x="526.8" y="373.5" width="4.4" height="7.5" fill="#fff" stroke="#222" stroke-width="0.6" />
<path d="M482 434 a4 4.4 0 0 1 8 0 z" fill="#fff" stroke="#222" stroke-width="0.8" />
<rect x="509.3" y="426.5" width="4.4" height="7.5" fill="#fff" stroke="#222" stroke-width="0.6" />
<rect x="526.8" y="426.5" width="4.4" height="7.5" fill="#fff" stroke="#222" stroke-width="0.6" />
<path d="M503 383 v-26 l6 8 l7 -8 v26 M516 357 l7 8 l7 -8 l7 8" fill="none" stroke="#222" stroke-width="0.7" />
<path d="M503 438 v-26 l6 8 l7 -8 v26 M533 412 l4 -6" fill="none" stroke="#222" stroke-width="0.7" />
<path d="M472 356 a11 11 0 0 0 11 -11 M472 399 a11 11 0 0 0 11 -11" fill="none" stroke="#222" stroke-width="0.7" />
<path d="M509.1 386 q2.4 6 4.8 0" fill="#fff" stroke="#222" stroke-width="0.6" />
<path d="M526.6 386 q2.4 6 4.8 0" fill="#fff" stroke="#222" stroke-width="0.6" />
<rect x="855.8" y="259.0" width="69.2" height="158.5" fill="#72787f" stroke="#4a4f55" stroke-width="0.8" />
<rect x="858.5" y="263.0" width="64.0" height="151.0" fill="#aeb5c4" />
<rect x="863.0" y="259.5" width="56.0" height="16.5" fill="#c3c9d6" stroke="#4a4f55" stroke-width="0.7" />
<rect x="864.0" y="276.0" width="26.0" height="138.0" fill="#b5bccb" stroke="#4a4f55" stroke-width="0.8" />
<rect x="894.0" y="276.0" width="25.0" height="138.0" fill="#b5bccb" stroke="#4a4f55" stroke-width="0.8" />
<rect x="890.0" y="259.5" width="4.0" height="154.5" fill="#cfd4de" stroke="#4a4f55" stroke-width="0.6" />
<line x1="877.0" y1="259.5" x2="877.0" y2="412.0" stroke="#59606a" stroke-width="0.6" />
<line x1="906.5" y1="259.5" x2="906.5" y2="412.0" stroke="#59606a" stroke-width="0.6" />
<line x1="866.0" y1="276.0" x2="866.0" y2="410.0" stroke="#4f555e" stroke-width="1.6" />
<line x1="888.5" y1="276.0" x2="888.5" y2="410.0" stroke="#4f555e" stroke-width="1.2" />
<line x1="895.5" y1="276.0" x2="895.5" y2="410.0" stroke="#4f555e" stroke-width="1.2" />
<line x1="917.0" y1="276.0" x2="917.0" y2="410.0" stroke="#4f555e" stroke-width="1.6" />
<rect x="864.0" y="284.0" width="26.0" height="3.0" fill="#8e95a3" />
<rect x="894.0" y="284.0" width="25.0" height="3.0" fill="#8e95a3" />
<polygon points="858.5,414.0 858.5,405.0 922.5,414.0" fill="#5d636b" />
<circle cx="877.0" cy="307.0" r="0.9" fill="#222"/>
<circle cx="906.5" cy="307.0" r="0.9" fill="#222"/>
<line x1="893.0" y1="307.0" x2="927.0" y2="307.0" stroke="#444" stroke-width="0.5" />
<polygon points="875.6,353.0 878.4,353.0 877.0,347.0" fill="#222" />
<polygon points="905.1,352.0 907.9,352.0 906.5,358.0" fill="#222" />
<rect x="444.3" y="146.0" width="1.7" height="149.3" fill="#7d7d7d" />
<rect x="288.3" y="293.2" width="295.1" height="2.2" fill="#7d7d7d" />
<rect x="631.8" y="170.6" width="1.8" height="125.4" fill="#7d7d7d" />
<rect x="631.8" y="294.0" width="127.0" height="2.2" fill="#7d7d7d" />
<rect x="603.5" y="169.8" width="30.1" height="1.6" fill="#7d7d7d" />
<rect x="582.6" y="171.0" width="1.6" height="124.3" fill="#7d7d7d" />
<rect x="432.0" y="340.0" width="4.3" height="167.0" fill="#7d7d7d" />
<rect x="361.1" y="502.0" width="177.9" height="5.0" fill="#7d7d7d" />
<rect x="436.0" y="420.5" width="33.4" height="1.8" fill="#7d7d7d" />
<rect x="304.6" y="339.6" width="131.4" height="1.4" fill="#7d7d7d" />
<rect x="303.0" y="292.7" width="18.0" height="3.2" fill="#c9cacb" />
<path d="M303 294.3 v9.0 q8.1 -0.9 9.0 -9.0 M321 294.3 v9.0 q-8.1 -0.9 -9.0 -9.0" fill="#e9eaeb" stroke="#333" stroke-width="0.6" />
<rect x="415.0" y="292.7" width="18.0" height="3.2" fill="#c9cacb" />
<path d="M415 294.3 v9.0 q8.1 -0.9 9.0 -9.0 M433 294.3 v9.0 q-8.1 -0.9 -9.0 -9.0" fill="#e9eaeb" stroke="#333" stroke-width="0.6" />
<rect x="451.0" y="292.7" width="18.0" height="3.2" fill="#c9cacb" />
<path d="M451 294.3 v9.0 q8.1 -0.9 9.0 -9.0 M469 294.3 v9.0 q-8.1 -0.9 -9.0 -9.0" fill="#e9eaeb" stroke="#333" stroke-width="0.6" />
<rect x="563.5" y="292.7" width="18.0" height="3.2" fill="#c9cacb" />
<path d="M563.5 294.3 v9.0 q8.1 -0.9 9.0 -9.0 M581.5 294.3 v9.0 q-8.1 -0.9 -9.0 -9.0" fill="#e9eaeb" stroke="#333" stroke-width="0.6" />
<rect x="631.1" y="177.0" width="3.2" height="18.0" fill="#c9cacb" />
<path d="M632.7 177 h-9.0 q0.9 8.1 9.0 9.0 M632.7 195 h-9.0 q0.9 -8.1 9.0 -9.0" fill="#e9eaeb" stroke="#333" stroke-width="0.6" />
<rect x="631.1" y="266.0" width="3.2" height="18.0" fill="#c9cacb" />
<path d="M632.7 266 h-9.0 q0.9 8.1 9.0 9.0 M632.7 284 h-9.0 q0.9 -8.1 9.0 -9.0" fill="#e9eaeb" stroke="#333" stroke-width="0.6" />
<rect x="385.0" y="339.0" width="17.0" height="2.5" fill="#e9e2e3" />
<path d="M386 341 a15 15 0 0 0 15 15 v-15" fill="#f1ecec" stroke="#333" stroke-width="0.6" />
<polyline points="506.0,927.3 255.4,208.0 255.4,144.8 1292.5,144.8" fill="none" stroke="#3c3c3c" stroke-width="6.2" stroke-linejoin="miter" stroke-linecap="butt"/>
<polyline points="506.0,927.3 255.4,208.0 255.4,144.8 1292.5,144.8" fill="none" stroke="#686868" stroke-width="5.0" stroke-linejoin="miter" stroke-linecap="butt"/>
<polyline points="1292.3,255.0 1292.3,524.3 1206.7,599.1" fill="none" stroke="#3c3c3c" stroke-width="6.2" stroke-linejoin="miter" stroke-linecap="butt"/>
<polyline points="1292.3,255.0 1292.3,524.3 1206.7,599.1" fill="none" stroke="#686868" stroke-width="5.0" stroke-linejoin="miter" stroke-linecap="butt"/>
<polyline points="826.0,924.0 911.5,851.4" fill="none" stroke="#3c3c3c" stroke-width="6.2" stroke-linejoin="miter" stroke-linecap="butt"/>
<polyline points="826.0,924.0 911.5,851.4" fill="none" stroke="#686868" stroke-width="5.0" stroke-linejoin="miter" stroke-linecap="butt"/>
<polyline points="503.0,924.3 828.5,924.3" fill="none" stroke="#3c3c3c" stroke-width="6.8" stroke-linejoin="miter" stroke-linecap="butt"/>
<polyline points="503.0,924.3 828.5,924.3" fill="none" stroke="#686868" stroke-width="5.6" stroke-linejoin="miter" stroke-linecap="butt"/>
<polyline points="824.0,925.7 911.5,851.4" fill="none" stroke="#3c3c3c" stroke-width="6.2" stroke-linejoin="miter" stroke-linecap="butt"/>
<polyline points="824.0,925.7 911.5,851.4" fill="none" stroke="#686868" stroke-width="5.0" stroke-linejoin="miter" stroke-linecap="butt"/>
<polyline points="907.6,846.9 862.8,794.4 1157.0,540.6 1203.1,594.6" fill="none" stroke="#3c3c3c" stroke-width="6.2" stroke-linejoin="miter" stroke-linecap="butt"/>
<polyline points="907.6,846.9 862.8,794.4 1157.0,540.6 1203.1,594.6" fill="none" stroke="#6c6c6c" stroke-width="5.0" stroke-linejoin="miter" stroke-linecap="butt"/>
<polyline points="300,146 420,146" fill="none" stroke="#d5d8da" stroke-width="1"/>
<line x1="292.0" y1="143.6" x2="424.0" y2="143.6" stroke="#cfd2d4" stroke-width="2.6" />
<line x1="450.0" y1="143.6" x2="580.0" y2="143.6" stroke="#cfd2d4" stroke-width="2.6" />
<line x1="612.0" y1="143.6" x2="742.0" y2="143.6" stroke="#cfd2d4" stroke-width="2.6" />
<line x1="772.0" y1="143.6" x2="908.0" y2="143.6" stroke="#cfd2d4" stroke-width="2.6" />
<line x1="938.0" y1="143.6" x2="1066.0" y2="143.6" stroke="#cfd2d4" stroke-width="2.6" />
<line x1="1292.3" y1="262.0" x2="1292.3" y2="334.0" stroke="#cfd2d4" stroke-width="1.6" />
<line x1="1292.3" y1="364.0" x2="1292.3" y2="520.0" stroke="#cfd2d4" stroke-width="1.6" />
<line x1="257.6" y1="215.0" x2="299.5" y2="335.0" stroke="#cfd2d4" stroke-width="1.6" />
<line x1="308.9" y1="362.0" x2="356.4" y2="498.0" stroke="#cfd2d4" stroke-width="1.6" />
<line x1="365.5" y1="524.0" x2="415.7" y2="668.0" stroke="#cfd2d4" stroke-width="1.6" />
<line x1="424.8" y1="694.0" x2="474.0" y2="835.0" stroke="#cfd2d4" stroke-width="1.6" />
<line x1="483.4" y1="862.0" x2="498.5" y2="905.0" stroke="#cfd2d4" stroke-width="1.6" />
<line x1="524.0" y1="924.3" x2="584.0" y2="924.3" stroke="#cfd2d4" stroke-width="2.0" />
<line x1="606.0" y1="924.3" x2="748.0" y2="924.3" stroke="#cfd2d4" stroke-width="2.0" />
<line x1="768.0" y1="924.3" x2="808.0" y2="924.3" stroke="#cfd2d4" stroke-width="2.0" />
<line x1="915.2" y1="849.6" x2="1204.2" y2="602.8" stroke="#262626" stroke-width="0.85" />
<line x1="920.7" y1="856.1" x2="1209.7" y2="609.3" stroke="#262626" stroke-width="0.85" />
<polygon points="942.2,769.3 978.7,738.2 1009.8,774.7 973.3,805.8" fill="#fff" stroke="#262626" stroke-width="0.85" />
<polygon points="949.9,769.9 978.1,745.9 1002.1,774.1 973.9,798.1" fill="#fff" stroke="#262626" stroke-width="0.85" />
<circle cx="976.0" cy="772.0" r="18.5" fill="none" stroke="#222" stroke-width="0.6"/>
<circle cx="976.0" cy="772.0" r="17.0" fill="none" stroke="#222" stroke-width="0.6"/>
<circle cx="976.0" cy="772.0" r="15.5" fill="none" stroke="#222" stroke-width="0.6"/>
<circle cx="976.0" cy="772.0" r="13.5" fill="#000"/>
<polygon points="1084.5,645.6 1121.0,614.5 1152.1,651.0 1115.6,682.1" fill="#fff" stroke="#262626" stroke-width="0.85" />
<polygon points="1092.2,646.2 1120.4,622.2 1144.4,650.4 1116.2,674.4" fill="#fff" stroke="#262626" stroke-width="0.85" />
<circle cx="1118.3" cy="648.3" r="18.5" fill="none" stroke="#222" stroke-width="0.6"/>
<circle cx="1118.3" cy="648.3" r="17.0" fill="none" stroke="#222" stroke-width="0.6"/>
<circle cx="1118.3" cy="648.3" r="15.5" fill="none" stroke="#222" stroke-width="0.6"/>
<circle cx="1118.3" cy="648.3" r="13.5" fill="#000"/>
<polygon points="878.7,833.7 907.6,809.0 932.2,837.9 903.3,862.6" fill="none" stroke="#262626" stroke-width="0.85" />
<polygon points="885.7,834.2 907.0,816.0 925.2,837.3 903.9,855.5" fill="none" stroke="#262626" stroke-width="0.85" />
<circle cx="903.5" cy="833.5" r="15.5" fill="none" stroke="#222" stroke-width="0.6"/>
<circle cx="903.5" cy="833.5" r="14.0" fill="none" stroke="#222" stroke-width="0.6"/>
<circle cx="903.5" cy="833.5" r="12.5" fill="none" stroke="#222" stroke-width="0.6"/>
<circle cx="903.5" cy="833.5" r="10.5" fill="#000"/>
<polygon points="1163.7,587.7 1192.6,563.0 1217.2,591.9 1188.3,616.6" fill="none" stroke="#262626" stroke-width="0.85" />
<polygon points="1170.7,588.2 1192.0,570.0 1210.2,591.3 1188.9,609.5" fill="none" stroke="#262626" stroke-width="0.85" />
<circle cx="1188.5" cy="587.5" r="15.5" fill="none" stroke="#222" stroke-width="0.6"/>
<circle cx="1188.5" cy="587.5" r="14.0" fill="none" stroke="#222" stroke-width="0.6"/>
<circle cx="1188.5" cy="587.5" r="12.5" fill="none" stroke="#222" stroke-width="0.6"/>
<circle cx="1188.5" cy="587.5" r="10.5" fill="#000"/>
<line x1="896.1" y1="771.8" x2="938.0" y2="736.1" stroke="#262626" stroke-width="0.85" />
<line x1="957.0" y1="719.9" x2="998.8" y2="684.2" stroke="#262626" stroke-width="0.85" />
<line x1="1017.8" y1="667.9" x2="1059.6" y2="632.2" stroke="#262626" stroke-width="0.85" />
<line x1="1086.2" y1="609.5" x2="1128.1" y2="573.8" stroke="#262626" stroke-width="0.85" />
<polygon points="245.4,135.0 302.5,135.0 302.5,142.0 252.5,142.0 252.5,205.4 245.4,205.4" fill="#fff" stroke="#262626" stroke-width="0.85" />
<line x1="245.4" y1="135.0" x2="252.5" y2="142.0" stroke="#333" stroke-width="0.6" />
<rect x="248.3" y="152.0" width="3.7" height="21.0" fill="#555" />
<rect x="267.5" y="138.4" width="19.3" height="33.6" fill="#000" />
<rect x="266.0" y="137.6" width="22.3" height="2.0" fill="#222" />
<rect x="426.0" y="138.4" width="18.3" height="33.6" fill="#000" />
<rect x="424.5" y="137.6" width="21.3" height="2.0" fill="#222" />
<rect x="584.7" y="138.4" width="18.8" height="33.6" fill="#000" />
<rect x="583.2" y="137.6" width="21.8" height="2.0" fill="#222" />
<rect x="748.4" y="138.4" width="18.8" height="33.6" fill="#000" />
<rect x="746.9" y="137.6" width="21.8" height="2.0" fill="#222" />
<rect x="912.5" y="138.4" width="19.5" height="33.6" fill="#000" />
<rect x="911.0" y="137.6" width="22.5" height="2.0" fill="#222" />
<rect x="1071.0" y="138.4" width="19.0" height="33.6" fill="#000" />
<rect x="1069.5" y="137.6" width="22.0" height="2.0" fill="#222" />
<rect x="1228.8" y="138.4" width="19.6" height="33.6" fill="#000" />
<rect x="1227.3" y="137.6" width="22.6" height="2.0" fill="#222" />
<rect x="1275.6" y="138.4" width="20.0" height="33.6" fill="#000" />
<rect x="1274.1" y="137.6" width="23.0" height="2.0" fill="#222" />
<rect x="306.0" y="339.7" width="30.0" height="17.8" fill="#000" />
<rect x="405.0" y="339.7" width="30.6" height="18.7" fill="#000" />
<rect x="363.8" y="502.9" width="29.0" height="17.4" fill="#000" />
<rect x="423.0" y="672.0" width="30.8" height="19.0" fill="#000" />
<rect x="482.0" y="839.0" width="29.7" height="18.7" fill="#000" />
<rect x="506.0" y="909.0" width="15.0" height="18.5" fill="#000" />
<rect x="586.0" y="901.0" width="16.0" height="26.5" fill="#000" />
<rect x="750.0" y="901.0" width="14.0" height="26.5" fill="#000" />
<rect x="809.5" y="909.0" width="15.5" height="18.5" fill="#000" />
<rect x="581.8" y="666.5" width="25.2" height="24.5" fill="#000" />
<rect x="745.7" y="666.5" width="25.0" height="24.5" fill="#000" />
<rect x="926.0" y="339.7" width="18.0" height="30.0" fill="#000" />
<rect x="1061.3" y="339.4" width="28.7" height="30.6" fill="#000" />
<rect x="1259.0" y="339.7" width="34.0" height="18.7" fill="#000" />
<rect x="926.0" y="494.0" width="18.0" height="30.0" fill="#000" />
<rect x="1274.0" y="495.0" width="15.5" height="26.5" fill="#000" />
<rect x="1223.8" y="533.7" width="15.2" height="26.1" fill="#000" />
<circle cx="921.9" cy="678.5" r="12.6" fill="#000"/>
<circle cx="1076.7" cy="545.0" r="13.0" fill="#000"/>
<circle cx="592.0" cy="847.5" r="12.0" fill="#000"/>
<circle cx="760.0" cy="847.5" r="12.0" fill="#000"/>
<rect x="521.0" y="912.0" width="10.0" height="12.0" fill="#555" />
<path d="M409 141.5 v-6.5 h52.30000000000001 v6.5" fill="none" stroke="#262626" stroke-width="0.85" />
<rect x="414.0" y="141.2" width="9.0" height="2.1" fill="#b5b5b5" stroke="#555" stroke-width="0.4" />
<rect x="447.3" y="141.2" width="9.0" height="2.1" fill="#b5b5b5" stroke="#555" stroke-width="0.4" />
<path d="M567.7 141.5 v-6.5 h52.799999999999955 v6.5" fill="none" stroke="#262626" stroke-width="0.85" />
<rect x="572.7" y="141.2" width="9.0" height="2.1" fill="#b5b5b5" stroke="#555" stroke-width="0.4" />
<rect x="606.5" y="141.2" width="9.0" height="2.1" fill="#b5b5b5" stroke="#555" stroke-width="0.4" />
<path d="M731.4 141.5 v-6.5 h52.80000000000007 v6.5" fill="none" stroke="#262626" stroke-width="0.85" />
<rect x="736.4" y="141.2" width="9.0" height="2.1" fill="#b5b5b5" stroke="#555" stroke-width="0.4" />
<rect x="770.2" y="141.2" width="9.0" height="2.1" fill="#b5b5b5" stroke="#555" stroke-width="0.4" />
<path d="M895.5 141.5 v-6.5 h53.5 v6.5" fill="none" stroke="#262626" stroke-width="0.85" />
<rect x="900.5" y="141.2" width="9.0" height="2.1" fill="#b5b5b5" stroke="#555" stroke-width="0.4" />
<rect x="935.0" y="141.2" width="9.0" height="2.1" fill="#b5b5b5" stroke="#555" stroke-width="0.4" />
<path d="M1054 141.5 v-6.5 h53 v6.5" fill="none" stroke="#262626" stroke-width="0.85" />
<rect x="1059.0" y="141.2" width="9.0" height="2.1" fill="#b5b5b5" stroke="#555" stroke-width="0.4" />
<rect x="1093.0" y="141.2" width="9.0" height="2.1" fill="#b5b5b5" stroke="#555" stroke-width="0.4" />
<path d="M1212 141.5 v-6.5 h89 v6.5" fill="none" stroke="#262626" stroke-width="0.85" />
<line x1="620.0" y1="135.0" x2="732.0" y2="135.0" stroke="#262626" stroke-width="0.85" />
<polygon points="290.9,318.0 283.9,320.5 302.7,374.5 309.7,372.0" fill="#fff" stroke="#262626" stroke-width="0.85" />
<polygon points="349.5,486.0 342.5,488.5 365.6,554.5 372.6,552.0" fill="#fff" stroke="#262626" stroke-width="0.85" />
<polygon points="408.2,654.0 401.2,656.5 424.9,724.5 431.9,722.0" fill="#fff" stroke="#262626" stroke-width="0.85" />
<line x1="297.6" y1="340.0" x2="303.2" y2="356.0" stroke="#222" stroke-width="2.2" />
<line x1="354.8" y1="504.0" x2="360.4" y2="520.0" stroke="#222" stroke-width="2.2" />
<line x1="413.4" y1="672.0" x2="419.7" y2="690.0" stroke="#222" stroke-width="2.2" />
<line x1="472.1" y1="840.0" x2="478.0" y2="857.0" stroke="#222" stroke-width="2.2" />
<rect x="506.0" y="928.0" width="25.0" height="3.5" fill="#333" />
<rect x="586.0" y="928.0" width="16.0" height="3.5" fill="#333" />
<rect x="750.0" y="928.0" width="14.0" height="3.5" fill="#333" />
<rect x="809.5" y="928.0" width="15.5" height="3.5" fill="#333" />
<rect x="1296.5" y="339.0" width="3.0" height="20.0" fill="#333" />
<rect x="1296.0" y="498.0" width="3.0" height="20.0" fill="#333" />
<path d="M622.6 140.8 Q622.1 133.3 615.3 131.8 Q608.6 130.7 608.6 124.9 Q608.6 117.6 616.4 113.6 Q642.9 104.1 675.7 104.1 Q708.7 104.1 735.7 113.6 Q743.6 117.6 743.6 124.9 Q743.6 130.7 736.8 131.8 Q730.1 133.3 729.5 140.8 Z" fill="#fff"/>
<g transform="" fill="none" stroke-linejoin="round" stroke-linecap="round"><path d="M639.5 140.8 639.5 128.2 Q638.4 119.2 624.9 112.5 M658.1 140.8 658.1 124.9 Q656.9 115.9 649.6 108.6 M675.7 140.8 675.7 127.1 Q673.2 115.9 668.2 108.0 M675.7 127.1 Q678.3 115.9 683.4 108.0 M694.6 140.8 694.6 124.9 Q695.7 115.9 702.5 108.6 M713.2 140.8 713.2 128.2 Q714.3 119.2 727.5 112.5 M622.6 134.4 Q675.7 116.4 729.5 134.4" stroke="#2a2a2a" stroke-width="3.4"/><path d="M639.5 140.8 639.5 128.2 Q638.4 119.2 624.9 112.5 M658.1 140.8 658.1 124.9 Q656.9 115.9 649.6 108.6 M675.7 140.8 675.7 127.1 Q673.2 115.9 668.2 108.0 M675.7 127.1 Q678.3 115.9 683.4 108.0 M694.6 140.8 694.6 124.9 Q695.7 115.9 702.5 108.6 M713.2 140.8 713.2 128.2 Q714.3 119.2 727.5 112.5 M622.6 134.4 Q675.7 116.4 729.5 134.4" stroke="#fff" stroke-width="1.6"/><path d="M639.5 140.8 639.5 128.2 Q638.4 119.2 624.9 112.5 M658.1 140.8 658.1 124.9 Q656.9 115.9 649.6 108.6 M675.7 140.8 675.7 127.1 Q673.2 115.9 668.2 108.0 M675.7 127.1 Q678.3 115.9 683.4 108.0 M694.6 140.8 694.6 124.9 Q695.7 115.9 702.5 108.6 M713.2 140.8 713.2 128.2 Q714.3 119.2 727.5 112.5 M622.6 134.4 Q675.7 116.4 729.5 134.4" stroke="#4a4a4a" stroke-width="0.6"/></g>
<g transform="" fill="none" stroke-linejoin="round" stroke-linecap="round"><path d="M622.6 140.8 Q622.1 133.3 615.3 131.8 Q608.6 130.7 608.6 124.9 Q608.6 117.6 616.4 113.6 Q642.9 104.1 675.7 104.1 Q708.7 104.1 735.7 113.6 Q743.6 117.6 743.6 124.9 Q743.6 130.7 736.8 131.8 Q730.1 133.3 729.5 140.8 Z" stroke="#2a2a2a" stroke-width="4.0"/><path d="M622.6 140.8 Q622.1 133.3 615.3 131.8 Q608.6 130.7 608.6 124.9 Q608.6 117.6 616.4 113.6 Q642.9 104.1 675.7 104.1 Q708.7 104.1 735.7 113.6 Q743.6 117.6 743.6 124.9 Q743.6 130.7 736.8 131.8 Q730.1 133.3 729.5 140.8 Z" stroke="#fff" stroke-width="1.9"/><path d="M622.6 140.8 Q622.1 133.3 615.3 131.8 Q608.6 130.7 608.6 124.9 Q608.6 117.6 616.4 113.6 Q642.9 104.1 675.7 104.1 Q708.7 104.1 735.7 113.6 Q743.6 117.6 743.6 124.9 Q743.6 130.7 736.8 131.8 Q730.1 133.3 729.5 140.8 Z" stroke="#4a4a4a" stroke-width="0.6"/></g>
<rect x="618.1" y="141.2" width="115.9" height="1.1" fill="#555" />
<path d="M1236.2 135.3 Q1235.6 129.1 1226.9 128.8 L1226.9 111.9 Q1227.2 105.3 1236.2 103.4 Q1261.9 97.8 1287.5 103.4 Q1296.6 105.3 1296.9 111.9 L1296.9 128.8 Q1288.1 129.1 1287.5 135.3 Z" fill="#fff"/>
<path d="M1236.2 126.2 Q1250.0 120.0 1261.9 119.1 Q1273.8 120.0 1287.5 126.2" fill="none" stroke="#2a2a2a" stroke-width="1.0"/>
<g transform="" fill="none" stroke-linejoin="round" stroke-linecap="round"><path d="M1261.9 135.3 1261.9 120.0 Q1258.1 111.2 1248.1 105.6 M1261.9 120.0 Q1265.6 111.2 1275.6 105.6 M1250.3 135.3 Q1248.8 118.8 1230.0 115.9 M1240.6 135.3 Q1239.4 126.2 1230.0 125.0 M1273.4 135.3 Q1275.0 118.8 1293.8 115.9 M1283.1 135.3 Q1284.4 126.2 1293.8 125.0 M1230.0 112.5 1230.0 127.5 M1293.8 112.5 1293.8 127.5" stroke="#2a2a2a" stroke-width="3.4"/><path d="M1261.9 135.3 1261.9 120.0 Q1258.1 111.2 1248.1 105.6 M1261.9 120.0 Q1265.6 111.2 1275.6 105.6 M1250.3 135.3 Q1248.8 118.8 1230.0 115.9 M1240.6 135.3 Q1239.4 126.2 1230.0 125.0 M1273.4 135.3 Q1275.0 118.8 1293.8 115.9 M1283.1 135.3 Q1284.4 126.2 1293.8 125.0 M1230.0 112.5 1230.0 127.5 M1293.8 112.5 1293.8 127.5" stroke="#fff" stroke-width="1.6"/><path d="M1261.9 135.3 1261.9 120.0 Q1258.1 111.2 1248.1 105.6 M1261.9 120.0 Q1265.6 111.2 1275.6 105.6 M1250.3 135.3 Q1248.8 118.8 1230.0 115.9 M1240.6 135.3 Q1239.4 126.2 1230.0 125.0 M1273.4 135.3 Q1275.0 118.8 1293.8 115.9 M1283.1 135.3 Q1284.4 126.2 1293.8 125.0 M1230.0 112.5 1230.0 127.5 M1293.8 112.5 1293.8 127.5" stroke="#4a4a4a" stroke-width="0.6"/></g>
<g transform="" fill="none" stroke-linejoin="round" stroke-linecap="round"><path d="M1236.2 135.3 Q1235.6 129.1 1226.9 128.8 L1226.9 111.9 Q1227.2 105.3 1236.2 103.4 Q1261.9 97.8 1287.5 103.4 Q1296.6 105.3 1296.9 111.9 L1296.9 128.8 Q1288.1 129.1 1287.5 135.3 Z" stroke="#2a2a2a" stroke-width="4.0"/><path d="M1236.2 135.3 Q1235.6 129.1 1226.9 128.8 L1226.9 111.9 Q1227.2 105.3 1236.2 103.4 Q1261.9 97.8 1287.5 103.4 Q1296.6 105.3 1296.9 111.9 L1296.9 128.8 Q1288.1 129.1 1287.5 135.3 Z" stroke="#fff" stroke-width="1.9"/><path d="M1236.2 135.3 Q1235.6 129.1 1226.9 128.8 L1226.9 111.9 Q1227.2 105.3 1236.2 103.4 Q1261.9 97.8 1287.5 103.4 Q1296.6 105.3 1296.9 111.9 L1296.9 128.8 Q1288.1 129.1 1287.5 135.3 Z" stroke="#4a4a4a" stroke-width="0.6"/></g>
<path d="M1302.2 258.9 1330.8 258.9 Q1341.3 258.3 1343.1 246.7 L1374.0 246.7 Q1392.6 251.3 1398.5 281.6 Q1402.2 305.0 1398.5 328.3 Q1392.6 358.6 1374.0 365.6 L1343.1 365.6 Q1341.3 354.0 1330.8 352.8 L1302.2 352.8 Z" fill="#fff"/>
<path d="M1343.6 258.9 Q1393.8 305.0 1343.6 352.8" fill="none" stroke="#2a2a2a" stroke-width="1.4"/>
<g transform="" fill="none" stroke-linejoin="round" stroke-linecap="round"><path d="M1329.1 258.9 1329.1 352.8 M1302.2 282.6 1329.1 282.6 M1302.2 305.9 1329.1 305.9 M1302.2 329.7 1329.1 329.7 M1329.1 282.6 Q1361.1 279.9 1370.5 248.1 M1329.1 305.9 1355.3 305.6 Q1379.8 298.0 1393.8 274.7 M1360.0 305.7 Q1381.0 315.5 1393.8 335.9 M1329.1 329.7 Q1361.1 332.4 1370.5 364.2 M1371.6 249.9 Q1387.7 257.7 1392.4 281.6 Q1395.9 305.0 1392.4 328.3 Q1387.7 354.5 1371.6 362.3" stroke="#2a2a2a" stroke-width="3.8"/><path d="M1329.1 258.9 1329.1 352.8 M1302.2 282.6 1329.1 282.6 M1302.2 305.9 1329.1 305.9 M1302.2 329.7 1329.1 329.7 M1329.1 282.6 Q1361.1 279.9 1370.5 248.1 M1329.1 305.9 1355.3 305.6 Q1379.8 298.0 1393.8 274.7 M1360.0 305.7 Q1381.0 315.5 1393.8 335.9 M1329.1 329.7 Q1361.1 332.4 1370.5 364.2 M1371.6 249.9 Q1387.7 257.7 1392.4 281.6 Q1395.9 305.0 1392.4 328.3 Q1387.7 354.5 1371.6 362.3" stroke="#fff" stroke-width="1.9"/><path d="M1329.1 258.9 1329.1 352.8 M1302.2 282.6 1329.1 282.6 M1302.2 305.9 1329.1 305.9 M1302.2 329.7 1329.1 329.7 M1329.1 282.6 Q1361.1 279.9 1370.5 248.1 M1329.1 305.9 1355.3 305.6 Q1379.8 298.0 1393.8 274.7 M1360.0 305.7 Q1381.0 315.5 1393.8 335.9 M1329.1 329.7 Q1361.1 332.4 1370.5 364.2 M1371.6 249.9 Q1387.7 257.7 1392.4 281.6 Q1395.9 305.0 1392.4 328.3 Q1387.7 354.5 1371.6 362.3" stroke="#4a4a4a" stroke-width="0.6"/></g>
<g transform="" fill="none" stroke-linejoin="round" stroke-linecap="round"><path d="M1302.2 258.9 1330.8 258.9 Q1341.3 258.3 1343.1 246.7 L1374.0 246.7 Q1392.6 251.3 1398.5 281.6 Q1402.2 305.0 1398.5 328.3 Q1392.6 358.6 1374.0 365.6 L1343.1 365.6 Q1341.3 354.0 1330.8 352.8 L1302.2 352.8 Z" stroke="#2a2a2a" stroke-width="4.0"/><path d="M1302.2 258.9 1330.8 258.9 Q1341.3 258.3 1343.1 246.7 L1374.0 246.7 Q1392.6 251.3 1398.5 281.6 Q1402.2 305.0 1398.5 328.3 Q1392.6 358.6 1374.0 365.6 L1343.1 365.6 Q1341.3 354.0 1330.8 352.8 L1302.2 352.8 Z" stroke="#fff" stroke-width="1.9"/><path d="M1302.2 258.9 1330.8 258.9 Q1341.3 258.3 1343.1 246.7 L1374.0 246.7 Q1392.6 251.3 1398.5 281.6 Q1402.2 305.0 1398.5 328.3 Q1392.6 358.6 1374.0 365.6 L1343.1 365.6 Q1341.3 354.0 1330.8 352.8 L1302.2 352.8 Z" stroke="#4a4a4a" stroke-width="0.6"/></g>
<path d="M587.2 934.5 587.2 951.8 Q585.6 966.3 564.5 969.4 L564.5 992.4 Q571.8 1008.5 616.3 1018.4 Q676.0 1029.1 735.7 1018.4 Q780.1 1008.5 787.8 992.4 L787.8 969.4 Q766.3 966.3 764.8 951.8 L764.8 934.5 Z" fill="#fff"/>
<path d="M584.1 968.6 Q628.5 986.3 669.1 988.6 M683.6 988.6 Q723.5 986.3 767.9 968.6" fill="none" stroke="#2a2a2a" stroke-width="1.4"/>
<g transform="" fill="none" stroke-linejoin="round" stroke-linecap="round"><path d="M587.2 951.8 764.8 951.8 M610.9 934.5 610.9 951.8 M643.1 934.5 643.1 951.8 M676.0 934.5 676.0 951.8 M708.9 934.5 708.9 951.8 M741.1 934.5 741.1 951.8 M610.9 951.8 Q610.1 986.3 569.5 992.7 M643.1 951.8 Q640.8 990.8 611.7 1014.1 M676.0 951.8 676.0 974.0 Q669.9 1000.0 654.5 1018.7 M676.0 974.0 Q682.1 1000.0 699.0 1018.7 M708.9 951.8 Q711.2 990.8 740.3 1014.1 M741.1 951.8 Q741.8 986.3 783.2 992.7 M569.5 970.9 569.5 993.9 Q576.4 1006.9 617.8 1013.8 Q676.0 1023.8 734.2 1013.8 Q775.5 1006.9 782.9 993.9 L782.9 970.9" stroke="#2a2a2a" stroke-width="3.8"/><path d="M587.2 951.8 764.8 951.8 M610.9 934.5 610.9 951.8 M643.1 934.5 643.1 951.8 M676.0 934.5 676.0 951.8 M708.9 934.5 708.9 951.8 M741.1 934.5 741.1 951.8 M610.9 951.8 Q610.1 986.3 569.5 992.7 M643.1 951.8 Q640.8 990.8 611.7 1014.1 M676.0 951.8 676.0 974.0 Q669.9 1000.0 654.5 1018.7 M676.0 974.0 Q682.1 1000.0 699.0 1018.7 M708.9 951.8 Q711.2 990.8 740.3 1014.1 M741.1 951.8 Q741.8 986.3 783.2 992.7 M569.5 970.9 569.5 993.9 Q576.4 1006.9 617.8 1013.8 Q676.0 1023.8 734.2 1013.8 Q775.5 1006.9 782.9 993.9 L782.9 970.9" stroke="#fff" stroke-width="1.9"/><path d="M587.2 951.8 764.8 951.8 M610.9 934.5 610.9 951.8 M643.1 934.5 643.1 951.8 M676.0 934.5 676.0 951.8 M708.9 934.5 708.9 951.8 M741.1 934.5 741.1 951.8 M610.9 951.8 Q610.1 986.3 569.5 992.7 M643.1 951.8 Q640.8 990.8 611.7 1014.1 M676.0 951.8 676.0 974.0 Q669.9 1000.0 654.5 1018.7 M676.0 974.0 Q682.1 1000.0 699.0 1018.7 M708.9 951.8 Q711.2 990.8 740.3 1014.1 M741.1 951.8 Q741.8 986.3 783.2 992.7 M569.5 970.9 569.5 993.9 Q576.4 1006.9 617.8 1013.8 Q676.0 1023.8 734.2 1013.8 Q775.5 1006.9 782.9 993.9 L782.9 970.9" stroke="#4a4a4a" stroke-width="0.6"/></g>
<g transform="" fill="none" stroke-linejoin="round" stroke-linecap="round"><path d="M587.2 934.5 587.2 951.8 Q585.6 966.3 564.5 969.4 L564.5 992.4 Q571.8 1008.5 616.3 1018.4 Q676.0 1029.1 735.7 1018.4 Q780.1 1008.5 787.8 992.4 L787.8 969.4 Q766.3 966.3 764.8 951.8 L764.8 934.5 Z" stroke="#2a2a2a" stroke-width="4.0"/><path d="M587.2 934.5 587.2 951.8 Q585.6 966.3 564.5 969.4 L564.5 992.4 Q571.8 1008.5 616.3 1018.4 Q676.0 1029.1 735.7 1018.4 Q780.1 1008.5 787.8 992.4 L787.8 969.4 Q766.3 966.3 764.8 951.8 L764.8 934.5 Z" stroke="#fff" stroke-width="1.9"/><path d="M587.2 934.5 587.2 951.8 Q585.6 966.3 564.5 969.4 L564.5 992.4 Q571.8 1008.5 616.3 1018.4 Q676.0 1029.1 735.7 1018.4 Q780.1 1008.5 787.8 992.4 L787.8 969.4 Q766.3 966.3 764.8 951.8 L764.8 934.5 Z" stroke="#4a4a4a" stroke-width="0.6"/></g>
<text x="365.5" y="242.8" font-size="11.5" text-anchor="middle" font-weight="bold" fill="#151515" textLength="47.8" lengthAdjust="spacingAndGlyphs" >PHÒNG 1</text>
<text x="366.6" y="257.8" font-size="11.5" text-anchor="middle" font-weight="bold" fill="#151515" textLength="37.5" lengthAdjust="spacingAndGlyphs" >67.4M2</text>
<text x="521.5" y="243.2" font-size="11.5" text-anchor="middle" font-weight="bold" fill="#151515" textLength="48.3" lengthAdjust="spacingAndGlyphs" >PHÒNG 2</text>
<text x="524.8" y="258.0" font-size="11.5" text-anchor="middle" font-weight="bold" fill="#151515" textLength="43.5" lengthAdjust="spacingAndGlyphs" >56.58M2</text>
<text x="695.9" y="242.8" font-size="11.5" text-anchor="middle" font-weight="bold" fill="#151515" textLength="47.8" lengthAdjust="spacingAndGlyphs" >PHÒNG 3</text>
<text x="697.8" y="257.4" font-size="11.5" text-anchor="middle" font-weight="bold" fill="#151515" textLength="43.9" lengthAdjust="spacingAndGlyphs" >51.38M2</text>
<text x="382.5" y="400.3" font-size="11.5" text-anchor="middle" font-weight="bold" fill="#151515" textLength="48.2" lengthAdjust="spacingAndGlyphs" >PHÒNG 4</text>
<text x="383.6" y="415.3" font-size="11.5" text-anchor="middle" font-weight="bold" fill="#151515" textLength="38.4" lengthAdjust="spacingAndGlyphs" >40.6M2</text>
<text x="515.9" y="321.6" font-size="11.5" text-anchor="middle" font-weight="bold" fill="#151515" textLength="64.2" lengthAdjust="spacingAndGlyphs" >HÀNH LANG</text>
<text x="519.8" y="336.3" font-size="11.5" text-anchor="middle" font-weight="bold" fill="#151515" textLength="38.4" lengthAdjust="spacingAndGlyphs" >66.1M2</text>
<text x="506.2" y="406.0" font-size="8.5" text-anchor="middle" font-weight="bold" fill="#151515" textLength="14.4" lengthAdjust="spacingAndGlyphs" >WC</text>
<text x="503.2" y="419.7" font-size="11.5" text-anchor="middle" font-weight="normal" fill="#151515" textLength="43.5" lengthAdjust="spacingAndGlyphs" stroke="#151515" stroke-width="0.35">18.46M2</text>
<text x="486.1" y="452.0" font-size="10" text-anchor="middle" font-weight="bold" fill="#151515" textLength="51.6" lengthAdjust="spacingAndGlyphs" >THANG BỘ</text>
<text x="488.4" y="462.8" font-size="10" text-anchor="middle" font-weight="bold" fill="#151515" textLength="28.1" lengthAdjust="spacingAndGlyphs" >STAIR</text>
<text x="458.9" y="537.8" font-size="11.5" text-anchor="middle" font-weight="normal" fill="#151515" textLength="17.8" lengthAdjust="spacingAndGlyphs" stroke="#151515" stroke-width="0.35">WC</text>
<text x="453.3" y="549.8" font-size="11.5" text-anchor="middle" font-weight="normal" fill="#151515" textLength="44.0" lengthAdjust="spacingAndGlyphs" stroke="#151515" stroke-width="0.35">39.66M2</text>
<text x="687.2" y="401.6" font-size="10.5" text-anchor="middle" font-weight="bold" fill="#151515" textLength="27.6" lengthAdjust="spacingAndGlyphs" >SẢNH</text>
<text x="684.7" y="414.0" font-size="10.5" text-anchor="middle" font-weight="bold" fill="#151515" textLength="54.4" lengthAdjust="spacingAndGlyphs" >CHUNG CƯ</text>
<text x="684.4" y="438.8" font-size="10.5" text-anchor="middle" font-weight="bold" fill="#151515" textLength="57.6" lengthAdjust="spacingAndGlyphs" >APARTMENT</text>
<text x="890.9" y="320.3" font-size="10.8" text-anchor="middle" font-weight="bold" fill="#151515" textLength="76.7" lengthAdjust="spacingAndGlyphs" >THANG CUỐN</text>
<text x="892.4" y="332.0" font-size="10.8" text-anchor="middle" font-weight="bold" fill="#151515" textLength="68.7" lengthAdjust="spacingAndGlyphs" >ESCALATOR</text>
<text x="893.5" y="345.0" font-size="10.8" text-anchor="middle" font-weight="bold" fill="#151515" textLength="44.5" lengthAdjust="spacingAndGlyphs" >32.18M2</text>
<text x="877.3" y="546.6" font-size="11.5" text-anchor="middle" font-weight="bold" fill="#151515" textLength="68.6" lengthAdjust="spacingAndGlyphs" >HÀNH LANG</text>
<text x="880.2" y="558.8" font-size="11.5" text-anchor="middle" font-weight="bold" fill="#151515" textLength="38.4" lengthAdjust="spacingAndGlyphs" >LOBBY</text>
<text x="876.3" y="572.8" font-size="11.5" text-anchor="middle" font-weight="normal" fill="#151515" textLength="43.1" lengthAdjust="spacingAndGlyphs" stroke="#151515" stroke-width="0.35">198.1M2</text>
<text x="922.5" y="185.0" font-size="11.5" text-anchor="middle" font-weight="normal" fill="#151515" textLength="133.9" lengthAdjust="spacingAndGlyphs" stroke="#151515" stroke-width="0.35">THƯƠNG MẠI - DỊCH VỤ</text>
<text x="924.0" y="197.4" font-size="11.5" text-anchor="middle" font-weight="normal" fill="#151515" textLength="52.0" lengthAdjust="spacingAndGlyphs" stroke="#151515" stroke-width="0.35">SERVICE</text>
<text x="925.0" y="210.5" font-size="11.5" text-anchor="middle" font-weight="normal" fill="#151515" textLength="44.0" lengthAdjust="spacingAndGlyphs" stroke="#151515" stroke-width="0.35">61.96M2</text>
<text x="664.9" y="756.7" font-size="11.5" text-anchor="middle" font-weight="normal" fill="#151515" textLength="131.7" lengthAdjust="spacingAndGlyphs" stroke="#151515" stroke-width="0.35">THƯƠNG MẠI - DỊCH VỤ</text>
<text x="668.3" y="769.3" font-size="11.5" text-anchor="middle" font-weight="normal" fill="#151515" textLength="50.0" lengthAdjust="spacingAndGlyphs" stroke="#151515" stroke-width="0.35">SERVICE</text>
<text x="672.5" y="782.7" font-size="11.5" text-anchor="middle" font-weight="normal" fill="#151515" textLength="45.0" lengthAdjust="spacingAndGlyphs" stroke="#151515" stroke-width="0.35">685.3M2</text>
<text x="1158.8" y="164.0" font-size="10" text-anchor="middle" font-weight="bold" fill="#151515" textLength="51.7" lengthAdjust="spacingAndGlyphs" >THANG BỘ</text>
<text x="1161.7" y="173.8" font-size="10" text-anchor="middle" font-weight="bold" fill="#151515" textLength="26.3" lengthAdjust="spacingAndGlyphs" >STAIR</text>
<text x="1255.8" y="192.8" font-size="12.5" text-anchor="middle" font-weight="bold" fill="#151515" textLength="32.3" lengthAdjust="spacingAndGlyphs" >SẢNH</text>
<text x="1255.0" y="205.3" font-size="12.5" text-anchor="middle" font-weight="bold" fill="#151515" textLength="39.4" lengthAdjust="spacingAndGlyphs" >LOBBY</text>
<text x="1256.3" y="218.4" font-size="12.5" text-anchor="middle" font-weight="bold" fill="#151515" textLength="36.7" lengthAdjust="spacingAndGlyphs" >14.2M2</text>
</g>
<g id="legend">
<rect x="1210.0" y="785.3" width="52.7" height="50.0" fill="#1fb3ec" />
<rect x="1210.0" y="785.3" width="52.7" height="4.0" fill="#000" />
<rect x="1210.0" y="789.3" width="4.6" height="46.0" fill="#6f7378" />
<rect x="1258.1" y="789.3" width="4.6" height="46.0" fill="#6f7378" />
<rect x="1210.0" y="831.3" width="52.7" height="4.0" fill="#77797c" />
<rect x="1210.0" y="831.3" width="4.6" height="4.0" fill="#000" />
<rect x="1258.1" y="831.3" width="4.6" height="4.0" fill="#000" />
<rect x="1220.1" y="800.6" width="32.4" height="26.1" fill="none" stroke="#0e4f70" stroke-width="0.9" />
<line x1="1220.1" y1="800.6" x2="1252.5" y2="826.7" stroke="#0e4f70" stroke-width="0.8" />
<line x1="1220.1" y1="826.7" x2="1252.5" y2="800.6" stroke="#0e4f70" stroke-width="0.8" />
<rect x="1227.6" y="793.6" width="17.4" height="4.1" fill="none" stroke="#0e4f70" stroke-width="0.8" />
<rect x="1224.3" y="831.7" width="24.0" height="3.0" fill="#4a3d2c" />
<rect x="1185.0" y="871.3" width="102.0" height="49.7" fill="#1fb3ec" />
<rect x="1185.0" y="871.3" width="102.0" height="4.0" fill="#000" />
<rect x="1185.0" y="875.3" width="4.6" height="45.7" fill="#6f7378" />
<rect x="1282.4" y="875.3" width="4.6" height="45.7" fill="#6f7378" />
<rect x="1185.0" y="917.0" width="102.0" height="4.0" fill="#77797c" />
<rect x="1185.0" y="917.0" width="4.6" height="4.0" fill="#000" />
<rect x="1282.4" y="917.0" width="4.6" height="4.0" fill="#000" />
<rect x="1195.5" y="886.6" width="32.4" height="25.8" fill="none" stroke="#0e4f70" stroke-width="0.9" />
<line x1="1195.5" y1="886.6" x2="1227.9" y2="912.4" stroke="#0e4f70" stroke-width="0.8" />
<line x1="1195.5" y1="912.4" x2="1227.9" y2="886.6" stroke="#0e4f70" stroke-width="0.8" />
<rect x="1203.0" y="879.6" width="17.4" height="4.1" fill="none" stroke="#0e4f70" stroke-width="0.8" />
<rect x="1199.7" y="917.4" width="24.0" height="3.0" fill="#4a3d2c" />
<line x1="1236.0" y1="875.3" x2="1236.0" y2="917.0" stroke="#0e5578" stroke-width="0.7" />
<rect x="1247.1" y="886.6" width="32.4" height="25.8" fill="none" stroke="#0e4f70" stroke-width="0.9" />
<line x1="1247.1" y1="886.6" x2="1279.5" y2="912.4" stroke="#0e4f70" stroke-width="0.8" />
<line x1="1247.1" y1="912.4" x2="1279.5" y2="886.6" stroke="#0e4f70" stroke-width="0.8" />
<rect x="1254.6" y="879.6" width="17.4" height="4.1" fill="none" stroke="#0e4f70" stroke-width="0.8" />
<rect x="1251.3" y="917.4" width="24.0" height="3.0" fill="#4a3d2c" />
<rect x="1228.3" y="875.3" width="18.4" height="41.7" fill="#1fb3ec" stroke="#0e5578" stroke-width="0.7" />
<rect x="1185.0" y="956.5" width="102.0" height="49.5" fill="#1fb3ec" />
<rect x="1185.0" y="956.5" width="102.0" height="4.0" fill="#000" />
<rect x="1185.0" y="960.5" width="4.6" height="45.5" fill="#6f7378" />
<rect x="1282.4" y="960.5" width="4.6" height="45.5" fill="#6f7378" />
<rect x="1185.0" y="1002.0" width="102.0" height="4.0" fill="#77797c" />
<rect x="1185.0" y="1002.0" width="4.6" height="4.0" fill="#000" />
<rect x="1282.4" y="1002.0" width="4.6" height="4.0" fill="#000" />
<rect x="1195.5" y="971.8" width="32.4" height="25.6" fill="none" stroke="#0e4f70" stroke-width="0.9" />
<line x1="1195.5" y1="971.8" x2="1227.9" y2="997.4" stroke="#0e4f70" stroke-width="0.8" />
<line x1="1195.5" y1="997.4" x2="1227.9" y2="971.8" stroke="#0e4f70" stroke-width="0.8" />
<rect x="1203.0" y="964.8" width="17.4" height="4.1" fill="none" stroke="#0e4f70" stroke-width="0.8" />
<rect x="1199.7" y="1002.4" width="24.0" height="3.0" fill="#4a3d2c" />
<line x1="1236.0" y1="960.5" x2="1236.0" y2="1002.0" stroke="#0e5578" stroke-width="0.7" />
<rect x="1247.1" y="971.8" width="32.4" height="25.6" fill="none" stroke="#0e4f70" stroke-width="0.9" />
<line x1="1247.1" y1="971.8" x2="1279.5" y2="997.4" stroke="#0e4f70" stroke-width="0.8" />
<line x1="1247.1" y1="997.4" x2="1279.5" y2="971.8" stroke="#0e4f70" stroke-width="0.8" />
<rect x="1254.6" y="964.8" width="17.4" height="4.1" fill="none" stroke="#0e4f70" stroke-width="0.8" />
<rect x="1251.3" y="1002.4" width="24.0" height="3.0" fill="#4a3d2c" />
<rect x="1228.3" y="960.5" width="18.4" height="41.5" fill="#1fb3ec" stroke="#0e5578" stroke-width="0.7" />
<polygon points="1228.7,862.2 1246.0,862.2 1237.3,850.4" fill="#23cf86" />
<polygon points="1228.7,947.2 1246.0,947.2 1237.3,935.6" fill="#1b22d1" />
<polygon points="1228.7,1028.8 1246.0,1028.8 1237.3,1017.2" fill="#e01a1c" />
<text x="1438.3" y="820.7" font-size="10.2" text-anchor="end" font-weight="bold" fill="#2fc98e" textLength="137.3" lengthAdjust="spacingAndGlyphs" >THANG HÀNG CHO TẦNG L1, L5</text>
<text x="1438.3" y="834.3" font-size="10.2" text-anchor="end" font-weight="bold" fill="#2fc98e" textLength="105.6" lengthAdjust="spacingAndGlyphs" >LIFTS OPEN FOR : L1, L5</text>
<text x="1516.7" y="909.5" font-size="10.2" text-anchor="end" font-weight="bold" fill="#2e3a4d" textLength="215.7" lengthAdjust="spacingAndGlyphs" >THANG MÁY VĂN PHÒNG CHO TẦNG B1, L1, L3, L4</text>
<text x="1516.7" y="923.4" font-size="10.2" text-anchor="end" font-weight="bold" fill="#2e3a4d" textLength="136.4" lengthAdjust="spacingAndGlyphs" >LIFTS OPEN FOR : B1, L1, L3, L4</text>
<text x="1547.7" y="990.2" font-size="10.2" text-anchor="end" font-weight="bold" fill="#c9242b" textLength="246.7" lengthAdjust="spacingAndGlyphs" >THANG MÁY VĂN PHÒNG CHO TẦNG B2, B1, L1, L2, L5, L6</text>
<text x="1547.7" y="1004.2" font-size="10.2" text-anchor="end" font-weight="bold" fill="#c9242b" textLength="167.7" lengthAdjust="spacingAndGlyphs" >LIFTS OPEN FOR : B2, B1, L1, L2, L5, L6</text>
</g>
<text x="1335.0" y="1068.3" font-size="33.2" text-anchor="middle" font-weight="bold" fill="#35435c" textLength="314.6" lengthAdjust="spacingAndGlyphs" >MẶT BẰNG TẦNG 2</text>
<text x="1389.0" y="1095.0" font-size="19.2" text-anchor="middle" font-weight="bold" fill="#35435c" textLength="105.0" lengthAdjust="spacingAndGlyphs" >( PLAN T2 )</text>
<text x="1388.5" y="1120.0" font-size="19.2" text-anchor="middle" font-weight="bold" fill="#35435c" textLength="103.0" lengthAdjust="spacingAndGlyphs" >PHÂN KHU</text>
<text x="318.8" y="1121.0" font-size="13.4" text-anchor="start" font-weight="normal" fill="#3b3b3b" textLength="359.3" lengthAdjust="spacingAndGlyphs" >Lô đất số 4A, phường Láng Thượng, quận Đống Đa, TP Hà Nội</text>
<text x="718.8" y="1121.0" font-size="13.4" text-anchor="start" font-weight="normal" fill="#3b3b3b" textLength="176.8" lengthAdjust="spacingAndGlyphs" >04.3259.5272 - 0904.67.77.88</text>
<text x="937.5" y="1121.0" font-size="13.4" text-anchor="start" font-weight="normal" fill="#3b3b3b" textLength="160.5" lengthAdjust="spacingAndGlyphs" >kinhdoanh@hateco.com.vn</text>
<text x="1145.0" y="1121.0" font-size="13.4" text-anchor="start" font-weight="normal" fill="#3b3b3b" textLength="160.0" lengthAdjust="spacingAndGlyphs" >www.hatecolaroma.com.vn</text>
<path d="M299.2 1108.8 a5.2 5.2 0 0 1 5.2 5.2 c0 3.2 -3.6 6 -5.2 8.3 c-1.6 -2.3 -5.2 -5.1 -5.2 -8.3 a5.2 5.2 0 0 1 5.2 -5.2 z M299.2 1111.8 a2.2 2.2 0 1 0 0.01 0 z" fill="#2b3548" stroke="none" stroke-width="0" fill-rule="evenodd"/>
<path d="M694.2 1110.6 l2.4 -1 l2 3.3 l-1.5 1.3 c0.8 1.9 2.2 3.4 4.1 4.3 l1.4 -1.5 l3.2 2.1 l-1.1 2.4 c-5.6 0.4 -11 -5.2 -10.5 -10.9 z" fill="#2b3548" stroke="none" stroke-width="0" />
<rect x="911.2" y="1111.3" width="13.0" height="9.0" fill="#2b3548" />
<path d="M911.2 1111.6 l6.5 5 l6.5 -5 M911.2 1120.3 l4.6 -4.3 M924.2 1120.3 l-4.6 -4.3" fill="none" stroke="#fff" stroke-width="1.1" />
<circle cx="1118.8" cy="1115.8" r="6.2" fill="#2b3548"/>
<path d="M1114.6 1112.4 q2.2 -1.6 3.6 0.4 q0.6 1.6 -1 2.2 q-1.4 1.2 -0.6 3 q-2.4 -0.6 -2.9 -2.6 z M1120.4 1111.2 q2.6 0.6 3.3 3 q-1.6 0.6 -1.8 2.4 q-1.8 0.2 -1.6 -1.8 q0.8 -1.6 -0.6 -2.4 z M1119.6 1118.2 q1.6 -0.4 2 1.2 q-0.8 1.2 -2.2 1.4 z" fill="#fff" stroke="none" stroke-width="0" />
<rect x="0.0" y="1146.0" width="1600.0" height="54.0" fill="url(#damask)" />
</svg>
</body></html>
